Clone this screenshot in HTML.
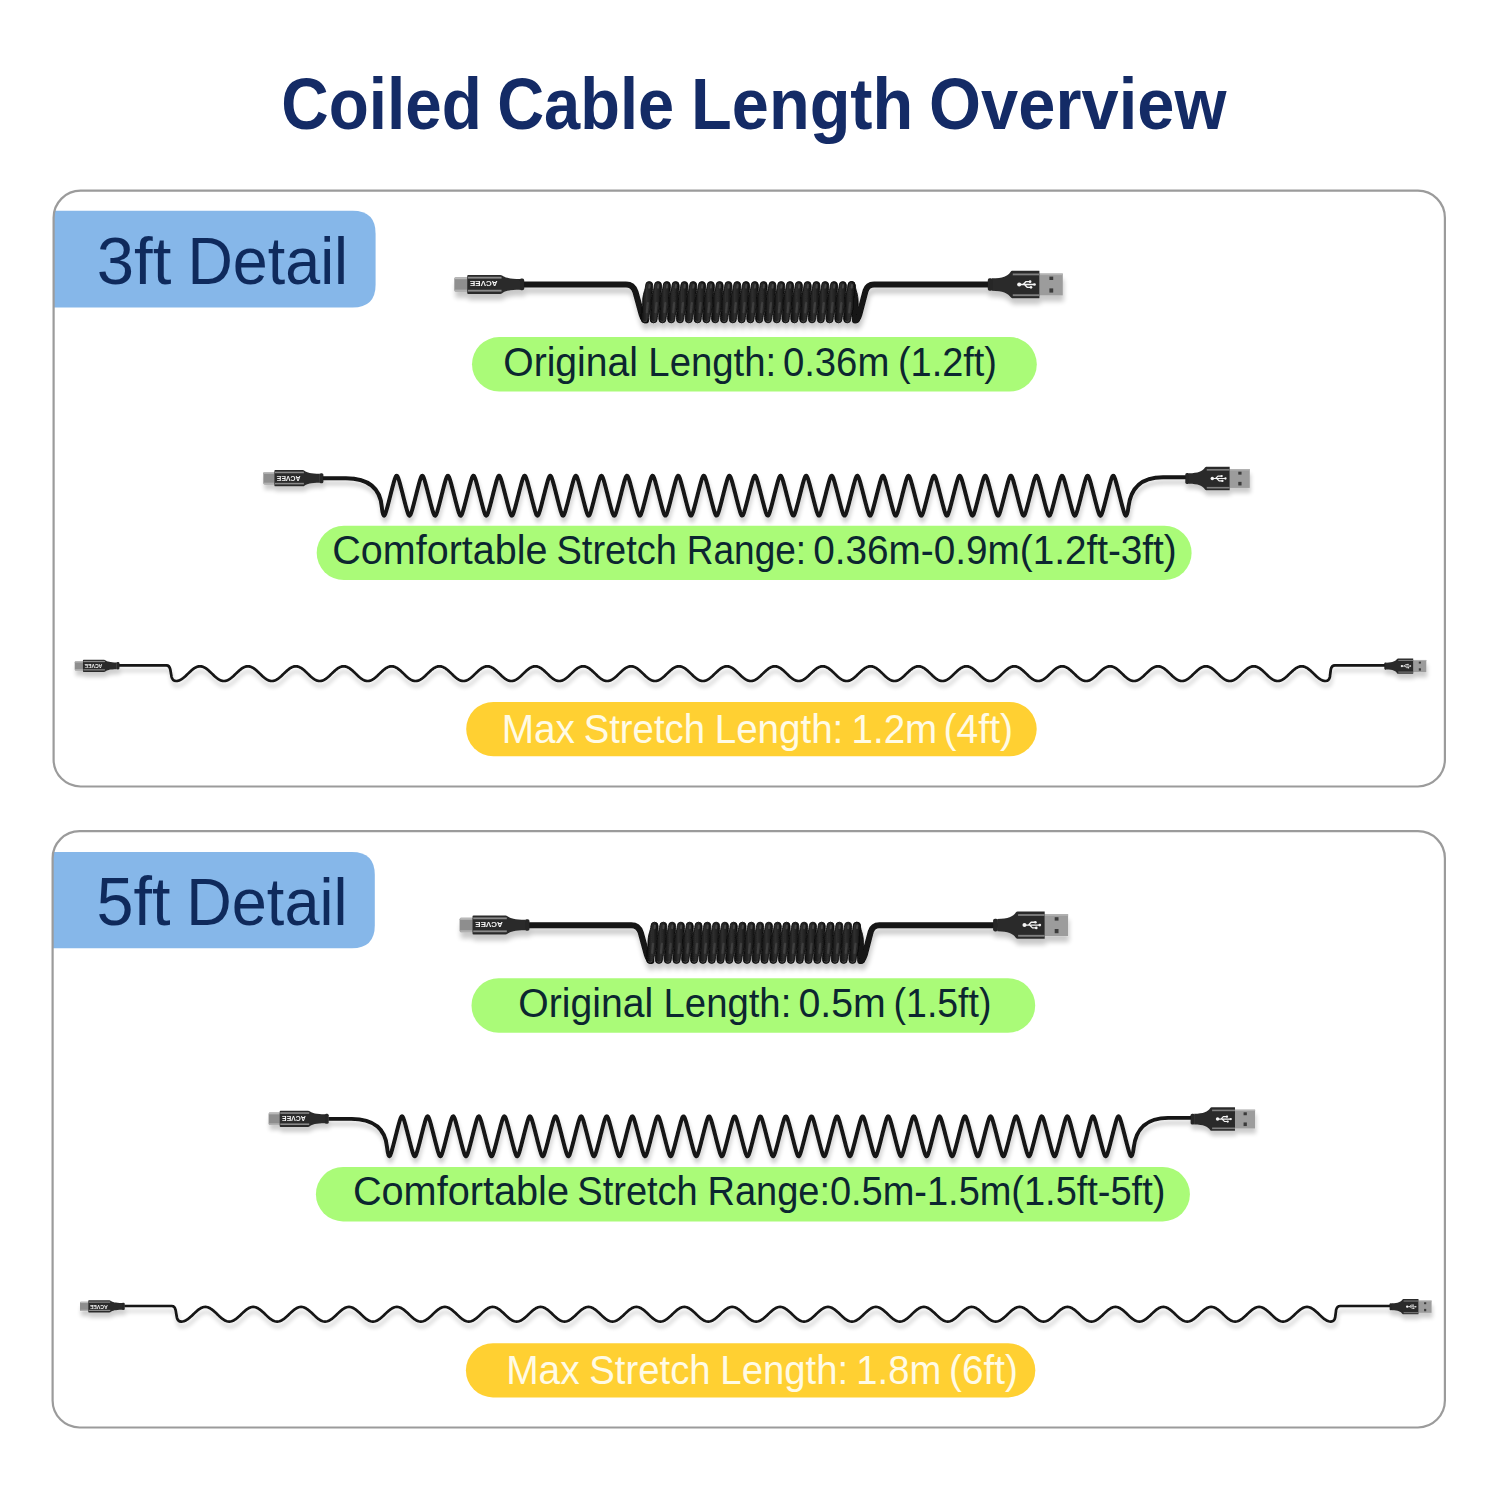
<!DOCTYPE html>
<html><head><meta charset="utf-8"><title>Coiled Cable Length Overview</title>
<style>html,body{margin:0;padding:0;background:#fff;width:1500px;height:1500px;overflow:hidden;font-family:"Liberation Sans",sans-serif} svg{display:block}</style>
</head><body>
<svg width="1500" height="1500" viewBox="0 0 1500 1500">
<defs>
<linearGradient id="pg" x1="0" y1="0" x2="1" y2="0">
<stop offset="0" stop-color="#0c0c0c"/><stop offset="0.45" stop-color="#2e2e2e"/><stop offset="0.6" stop-color="#2a2a2a"/><stop offset="1" stop-color="#101010"/>
</linearGradient>
<filter id="sh" x="-5%" y="-50%" width="110%" height="200%">
<feGaussianBlur in="SourceAlpha" stdDeviation="2.6"/><feOffset dx="1" dy="6" result="o"/>
<feComponentTransfer in="o" result="s"><feFuncA type="linear" slope="0.22"/></feComponentTransfer>
<feMerge><feMergeNode in="s"/><feMergeNode in="SourceGraphic"/></feMerge></filter>
<filter id="sh2" x="-5%" y="-50%" width="110%" height="200%">
<feGaussianBlur in="SourceAlpha" stdDeviation="2.2"/><feOffset dx="1" dy="5" result="o"/>
<feComponentTransfer in="o" result="s"><feFuncA type="linear" slope="0.2"/></feComponentTransfer>
<feMerge><feMergeNode in="s"/><feMergeNode in="SourceGraphic"/></feMerge></filter>
<filter id="sh3" x="-5%" y="-80%" width="110%" height="260%">
<feGaussianBlur in="SourceAlpha" stdDeviation="2"/><feOffset dx="1" dy="5" result="o"/>
<feComponentTransfer in="o" result="s"><feFuncA type="linear" slope="0.2"/></feComponentTransfer>
<feMerge><feMergeNode in="s"/><feMergeNode in="SourceGraphic"/></feMerge></filter>
</defs>
<rect width="1500" height="1500" fill="#ffffff"/>
<text transform="translate(281.26,129.3) scale(0.9118,1.0118)" font-family="Liberation Sans" font-weight="bold" font-size="72" fill="#142b66">Coiled</text>
<text transform="translate(497.19,129.3) scale(0.9026,1.0118)" font-family="Liberation Sans" font-weight="bold" font-size="72" fill="#142b66">Cable</text>
<text transform="translate(691.07,129.3) scale(0.9264,1.0118)" font-family="Liberation Sans" font-weight="bold" font-size="72" fill="#142b66">Length</text>
<text transform="translate(929.11,129.3) scale(0.9287,1.0118)" font-family="Liberation Sans" font-weight="bold" font-size="72" fill="#142b66">Overview</text>
<path d="M54,210.8 L352.6,210.8 Q375.6,210.8 375.6,233.8 L375.6,284.6 Q375.6,307.6 352.6,307.6 L54,307.6 Z" fill="#86b7e9"/>
<rect x="53.6" y="190.7" width="1391.3" height="595.8" rx="27" fill="none" stroke="#9b9b9b" stroke-width="2.2"/>
<text transform="translate(96.75,283.8) scale(1.0171,1.0152)" font-family="Liberation Sans" font-weight="normal" font-size="66" fill="#0f2a5c">3ft</text>
<text transform="translate(187.44,283.8) scale(0.9522,1.0152)" font-family="Liberation Sans" font-weight="normal" font-size="66" fill="#0f2a5c">Detail</text>
<rect x="472" y="337.1" width="564.8" height="54.4" rx="27.2" fill="#aafb78"/>
<text transform="translate(503.25,375.8) scale(0.9774,1.0220)" font-family="Liberation Sans" font-weight="normal" font-size="40" fill="#0c2630">Original</text>
<text transform="translate(648.33,375.8) scale(0.9575,1.0220)" font-family="Liberation Sans" font-weight="normal" font-size="40" fill="#0c2630">Length:</text>
<text transform="translate(782.89,375.8) scale(0.9570,1.0220)" font-family="Liberation Sans" font-weight="normal" font-size="40" fill="#0c2630">0.36m</text>
<text transform="translate(897.95,375.8) scale(0.9485,1.0220)" font-family="Liberation Sans" font-weight="normal" font-size="40" fill="#0c2630">(1.2ft)</text>
<rect x="316.7" y="525.7" width="874.9" height="54.4" rx="27.2" fill="#aafb78"/>
<text transform="translate(332.33,564.3) scale(0.9874,1.0220)" font-family="Liberation Sans" font-weight="normal" font-size="40" fill="#0c2630">Comfortable</text>
<text transform="translate(556.5,564.3) scale(0.9508,1.0220)" font-family="Liberation Sans" font-weight="normal" font-size="40" fill="#0c2630">Stretch</text>
<text transform="translate(686.83,564.3) scale(0.9246,1.0220)" font-family="Liberation Sans" font-weight="normal" font-size="40" fill="#0c2630">Range:</text>
<text transform="translate(813.26,564.3) scale(0.9679,1.0220)" font-family="Liberation Sans" font-weight="normal" font-size="40" fill="#0c2630">0.36m-0.9m(1.2ft-3ft)</text>
<rect x="466.2" y="701.9" width="570.5" height="54.4" rx="27.2" fill="#ffd032"/>
<text transform="translate(501.69,742.7) scale(0.9694,1.0220)" font-family="Liberation Sans" font-weight="normal" font-size="40" fill="#fffbe6">Max</text>
<text transform="translate(583.69,742.7) scale(0.9574,1.0220)" font-family="Liberation Sans" font-weight="normal" font-size="40" fill="#fffbe6">Stretch</text>
<text transform="translate(714.71,742.7) scale(0.9638,1.0220)" font-family="Liberation Sans" font-weight="normal" font-size="40" fill="#fffbe6">Length:</text>
<text transform="translate(851.51,742.7) scale(0.9639,1.0220)" font-family="Liberation Sans" font-weight="normal" font-size="40" fill="#fffbe6">1.2m</text>
<text transform="translate(943.46,742.7) scale(0.9788,1.0220)" font-family="Liberation Sans" font-weight="normal" font-size="40" fill="#fffbe6">(4ft)</text>
<path d="M53,852 L351.8,852 Q374.8,852 374.8,875 L374.8,925.2 Q374.8,948.2 351.8,948.2 L53,948.2 Z" fill="#86b7e9"/>
<rect x="52.6" y="831.2" width="1392.3" height="596.3" rx="27" fill="none" stroke="#9b9b9b" stroke-width="2.2"/>
<text transform="translate(96.47,925.2) scale(1.0086,1.0239)" font-family="Liberation Sans" font-weight="normal" font-size="66" fill="#0f2a5c">5ft</text>
<text transform="translate(186.33,925.2) scale(0.9547,1.0239)" font-family="Liberation Sans" font-weight="normal" font-size="66" fill="#0f2a5c">Detail</text>
<rect x="471.5" y="978.3" width="563.7" height="54.4" rx="27.2" fill="#aafb78"/>
<text transform="translate(518.34,1016.9) scale(0.9782,1.0220)" font-family="Liberation Sans" font-weight="normal" font-size="40" fill="#0c2630">Original</text>
<text transform="translate(663.53,1016.9) scale(0.9575,1.0220)" font-family="Liberation Sans" font-weight="normal" font-size="40" fill="#0c2630">Length:</text>
<text transform="translate(798.44,1016.9) scale(0.9810,1.0220)" font-family="Liberation Sans" font-weight="normal" font-size="40" fill="#0c2630">0.5m</text>
<text transform="translate(893.59,1016.9) scale(0.9364,1.0220)" font-family="Liberation Sans" font-weight="normal" font-size="40" fill="#0c2630">(1.5ft)</text>
<rect x="315.9" y="1167" width="874" height="54.4" rx="27.2" fill="#aafb78"/>
<text transform="translate(352.92,1205.4) scale(0.9921,1.0220)" font-family="Liberation Sans" font-weight="normal" font-size="40" fill="#0c2630">Comfortable</text>
<text transform="translate(577.3,1205.4) scale(0.9508,1.0220)" font-family="Liberation Sans" font-weight="normal" font-size="40" fill="#0c2630">Stretch</text>
<text transform="translate(707.55,1205.4) scale(0.9493,1.0220)" font-family="Liberation Sans" font-weight="normal" font-size="40" fill="#0c2630">Range:0.5m-1.5m(1.5ft-5ft)</text>
<rect x="465.9" y="1343.3" width="569.4" height="54.1" rx="27.05" fill="#ffd032"/>
<text transform="translate(506.18,1383.8) scale(0.9736,1.0220)" font-family="Liberation Sans" font-weight="normal" font-size="40" fill="#fffbe6">Max</text>
<text transform="translate(589.29,1383.8) scale(0.9574,1.0220)" font-family="Liberation Sans" font-weight="normal" font-size="40" fill="#fffbe6">Stretch</text>
<text transform="translate(720.33,1383.8) scale(0.9575,1.0220)" font-family="Liberation Sans" font-weight="normal" font-size="40" fill="#fffbe6">Length:</text>
<text transform="translate(856.34,1383.8) scale(0.9542,1.0220)" font-family="Liberation Sans" font-weight="normal" font-size="40" fill="#fffbe6">1.8m</text>
<text transform="translate(949.1,1383.8) scale(0.9682,1.0220)" font-family="Liberation Sans" font-weight="normal" font-size="40" fill="#fffbe6">(6ft)</text>
<g filter="url(#sh)"><path d="M524,284.6 L626,284.6 Q633,284.6 635.5,292 L641.5,314 Q643.5,320.5 646,320.5" fill="none" stroke="#121212" stroke-width="6" stroke-linecap="round"/>
<path d="M848.1,285.1 A3.5,3.5 0 0 1 855.1,285.1 C855.5,290.6 858.1,293.2 858.1,302.2 C858.1,311.2 859.9,313.8 859.5,319.3 A3.5,3.5 0 0 1 852.5,319.3 C852.1,313.8 849.5,311.2 849.5,302.2 C849.5,293.2 847.7,290.6 848.1,285.1 Z" fill="#161616" stroke="#080808" stroke-width="0.9"/>
<path d="M645.7,285.1 A3.5,3.5 0 0 1 652.7,285.1 C653.1,290.6 651.3,293.2 651.3,302.2 C651.3,311.2 648.7,313.8 648.3,319.3 A3.5,3.5 0 0 1 641.3,319.3 C640.9,313.8 642.7,311.2 642.7,302.2 C642.7,293.2 645.3,290.6 645.7,285.1 Z" fill="url(#pg)" stroke="#080808" stroke-width="0.9"/>
<path d="M654.5,285.1 A3.5,3.5 0 0 1 661.5,285.1 C661.9,290.6 660.1,293.2 660.1,302.2 C660.1,311.2 657.5,313.8 657.1,319.3 A3.5,3.5 0 0 1 650.1,319.3 C649.7,313.8 651.5,311.2 651.5,302.2 C651.5,293.2 654.1,290.6 654.5,285.1 Z" fill="url(#pg)" stroke="#080808" stroke-width="0.9"/>
<path d="M663.3,285.1 A3.5,3.5 0 0 1 670.3,285.1 C670.7,290.6 668.9,293.2 668.9,302.2 C668.9,311.2 666.3,313.8 665.9,319.3 A3.5,3.5 0 0 1 658.9,319.3 C658.5,313.8 660.3,311.2 660.3,302.2 C660.3,293.2 662.9,290.6 663.3,285.1 Z" fill="url(#pg)" stroke="#080808" stroke-width="0.9"/>
<path d="M672.1,285.1 A3.5,3.5 0 0 1 679.1,285.1 C679.5,290.6 677.7,293.2 677.7,302.2 C677.7,311.2 675.1,313.8 674.7,319.3 A3.5,3.5 0 0 1 667.7,319.3 C667.3,313.8 669.1,311.2 669.1,302.2 C669.1,293.2 671.7,290.6 672.1,285.1 Z" fill="url(#pg)" stroke="#080808" stroke-width="0.9"/>
<path d="M680.9,285.1 A3.5,3.5 0 0 1 687.9,285.1 C688.3,290.6 686.5,293.2 686.5,302.2 C686.5,311.2 683.9,313.8 683.5,319.3 A3.5,3.5 0 0 1 676.5,319.3 C676.1,313.8 677.9,311.2 677.9,302.2 C677.9,293.2 680.5,290.6 680.9,285.1 Z" fill="url(#pg)" stroke="#080808" stroke-width="0.9"/>
<path d="M689.7,285.1 A3.5,3.5 0 0 1 696.7,285.1 C697.1,290.6 695.3,293.2 695.3,302.2 C695.3,311.2 692.7,313.8 692.3,319.3 A3.5,3.5 0 0 1 685.3,319.3 C684.9,313.8 686.7,311.2 686.7,302.2 C686.7,293.2 689.3,290.6 689.7,285.1 Z" fill="url(#pg)" stroke="#080808" stroke-width="0.9"/>
<path d="M698.5,285.1 A3.5,3.5 0 0 1 705.5,285.1 C705.9,290.6 704.1,293.2 704.1,302.2 C704.1,311.2 701.5,313.8 701.1,319.3 A3.5,3.5 0 0 1 694.1,319.3 C693.7,313.8 695.5,311.2 695.5,302.2 C695.5,293.2 698.1,290.6 698.5,285.1 Z" fill="url(#pg)" stroke="#080808" stroke-width="0.9"/>
<path d="M707.3,285.1 A3.5,3.5 0 0 1 714.3,285.1 C714.7,290.6 712.9,293.2 712.9,302.2 C712.9,311.2 710.3,313.8 709.9,319.3 A3.5,3.5 0 0 1 702.9,319.3 C702.5,313.8 704.3,311.2 704.3,302.2 C704.3,293.2 706.9,290.6 707.3,285.1 Z" fill="url(#pg)" stroke="#080808" stroke-width="0.9"/>
<path d="M716.1,285.1 A3.5,3.5 0 0 1 723.1,285.1 C723.5,290.6 721.7,293.2 721.7,302.2 C721.7,311.2 719.1,313.8 718.7,319.3 A3.5,3.5 0 0 1 711.7,319.3 C711.3,313.8 713.1,311.2 713.1,302.2 C713.1,293.2 715.7,290.6 716.1,285.1 Z" fill="url(#pg)" stroke="#080808" stroke-width="0.9"/>
<path d="M724.9,285.1 A3.5,3.5 0 0 1 731.9,285.1 C732.3,290.6 730.5,293.2 730.5,302.2 C730.5,311.2 727.9,313.8 727.5,319.3 A3.5,3.5 0 0 1 720.5,319.3 C720.1,313.8 721.9,311.2 721.9,302.2 C721.9,293.2 724.5,290.6 724.9,285.1 Z" fill="url(#pg)" stroke="#080808" stroke-width="0.9"/>
<path d="M733.7,285.1 A3.5,3.5 0 0 1 740.7,285.1 C741.1,290.6 739.3,293.2 739.3,302.2 C739.3,311.2 736.7,313.8 736.3,319.3 A3.5,3.5 0 0 1 729.3,319.3 C728.9,313.8 730.7,311.2 730.7,302.2 C730.7,293.2 733.3,290.6 733.7,285.1 Z" fill="url(#pg)" stroke="#080808" stroke-width="0.9"/>
<path d="M742.5,285.1 A3.5,3.5 0 0 1 749.5,285.1 C749.9,290.6 748.1,293.2 748.1,302.2 C748.1,311.2 745.5,313.8 745.1,319.3 A3.5,3.5 0 0 1 738.1,319.3 C737.7,313.8 739.5,311.2 739.5,302.2 C739.5,293.2 742.1,290.6 742.5,285.1 Z" fill="url(#pg)" stroke="#080808" stroke-width="0.9"/>
<path d="M751.3,285.1 A3.5,3.5 0 0 1 758.3,285.1 C758.7,290.6 756.9,293.2 756.9,302.2 C756.9,311.2 754.3,313.8 753.9,319.3 A3.5,3.5 0 0 1 746.9,319.3 C746.5,313.8 748.3,311.2 748.3,302.2 C748.3,293.2 750.9,290.6 751.3,285.1 Z" fill="url(#pg)" stroke="#080808" stroke-width="0.9"/>
<path d="M760.1,285.1 A3.5,3.5 0 0 1 767.1,285.1 C767.5,290.6 765.7,293.2 765.7,302.2 C765.7,311.2 763.1,313.8 762.7,319.3 A3.5,3.5 0 0 1 755.7,319.3 C755.3,313.8 757.1,311.2 757.1,302.2 C757.1,293.2 759.7,290.6 760.1,285.1 Z" fill="url(#pg)" stroke="#080808" stroke-width="0.9"/>
<path d="M768.9,285.1 A3.5,3.5 0 0 1 775.9,285.1 C776.3,290.6 774.5,293.2 774.5,302.2 C774.5,311.2 771.9,313.8 771.5,319.3 A3.5,3.5 0 0 1 764.5,319.3 C764.1,313.8 765.9,311.2 765.9,302.2 C765.9,293.2 768.5,290.6 768.9,285.1 Z" fill="url(#pg)" stroke="#080808" stroke-width="0.9"/>
<path d="M777.7,285.1 A3.5,3.5 0 0 1 784.7,285.1 C785.1,290.6 783.3,293.2 783.3,302.2 C783.3,311.2 780.7,313.8 780.3,319.3 A3.5,3.5 0 0 1 773.3,319.3 C772.9,313.8 774.7,311.2 774.7,302.2 C774.7,293.2 777.3,290.6 777.7,285.1 Z" fill="url(#pg)" stroke="#080808" stroke-width="0.9"/>
<path d="M786.5,285.1 A3.5,3.5 0 0 1 793.5,285.1 C793.9,290.6 792.1,293.2 792.1,302.2 C792.1,311.2 789.5,313.8 789.1,319.3 A3.5,3.5 0 0 1 782.1,319.3 C781.7,313.8 783.5,311.2 783.5,302.2 C783.5,293.2 786.1,290.6 786.5,285.1 Z" fill="url(#pg)" stroke="#080808" stroke-width="0.9"/>
<path d="M795.3,285.1 A3.5,3.5 0 0 1 802.3,285.1 C802.7,290.6 800.9,293.2 800.9,302.2 C800.9,311.2 798.3,313.8 797.9,319.3 A3.5,3.5 0 0 1 790.9,319.3 C790.5,313.8 792.3,311.2 792.3,302.2 C792.3,293.2 794.9,290.6 795.3,285.1 Z" fill="url(#pg)" stroke="#080808" stroke-width="0.9"/>
<path d="M804.1,285.1 A3.5,3.5 0 0 1 811.1,285.1 C811.5,290.6 809.7,293.2 809.7,302.2 C809.7,311.2 807.1,313.8 806.7,319.3 A3.5,3.5 0 0 1 799.7,319.3 C799.3,313.8 801.1,311.2 801.1,302.2 C801.1,293.2 803.7,290.6 804.1,285.1 Z" fill="url(#pg)" stroke="#080808" stroke-width="0.9"/>
<path d="M812.9,285.1 A3.5,3.5 0 0 1 819.9,285.1 C820.3,290.6 818.5,293.2 818.5,302.2 C818.5,311.2 815.9,313.8 815.5,319.3 A3.5,3.5 0 0 1 808.5,319.3 C808.1,313.8 809.9,311.2 809.9,302.2 C809.9,293.2 812.5,290.6 812.9,285.1 Z" fill="url(#pg)" stroke="#080808" stroke-width="0.9"/>
<path d="M821.7,285.1 A3.5,3.5 0 0 1 828.7,285.1 C829.1,290.6 827.3,293.2 827.3,302.2 C827.3,311.2 824.7,313.8 824.3,319.3 A3.5,3.5 0 0 1 817.3,319.3 C816.9,313.8 818.7,311.2 818.7,302.2 C818.7,293.2 821.3,290.6 821.7,285.1 Z" fill="url(#pg)" stroke="#080808" stroke-width="0.9"/>
<path d="M830.5,285.1 A3.5,3.5 0 0 1 837.5,285.1 C837.9,290.6 836.1,293.2 836.1,302.2 C836.1,311.2 833.5,313.8 833.1,319.3 A3.5,3.5 0 0 1 826.1,319.3 C825.7,313.8 827.5,311.2 827.5,302.2 C827.5,293.2 830.1,290.6 830.5,285.1 Z" fill="url(#pg)" stroke="#080808" stroke-width="0.9"/>
<path d="M839.3,285.1 A3.5,3.5 0 0 1 846.3,285.1 C846.7,290.6 844.9,293.2 844.9,302.2 C844.9,311.2 842.3,313.8 841.9,319.3 A3.5,3.5 0 0 1 834.9,319.3 C834.5,313.8 836.3,311.2 836.3,302.2 C836.3,293.2 838.9,290.6 839.3,285.1 Z" fill="url(#pg)" stroke="#080808" stroke-width="0.9"/>
<path d="M848.1,285.1 A3.5,3.5 0 0 1 855.1,285.1 C855.5,290.6 853.7,293.2 853.7,302.2 C853.7,311.2 851.1,313.8 850.7,319.3 A3.5,3.5 0 0 1 843.7,319.3 C843.3,313.8 845.1,311.2 845.1,302.2 C845.1,293.2 847.7,290.6 848.1,285.1 Z" fill="url(#pg)" stroke="#080808" stroke-width="0.9"/>
<path d="M649.6,285 L649.3,287.6" stroke="#5c5c5c" stroke-width="2" stroke-linecap="round" opacity="0.6"/>
<path d="M647.8,303.2 L646.8,312.2" stroke="#525252" stroke-width="2.2" stroke-linecap="round" opacity="0.5"/>
<path d="M642.6,320.6 A3,3 0 0 0 647,320.6" fill="none" stroke="#505050" stroke-width="1" opacity="0.6"/>
<path d="M658.4,285 L658.1,287.6" stroke="#5c5c5c" stroke-width="2" stroke-linecap="round" opacity="0.6"/>
<path d="M656.6,303.2 L655.6,312.2" stroke="#525252" stroke-width="2.2" stroke-linecap="round" opacity="0.5"/>
<path d="M651.4,320.6 A3,3 0 0 0 655.8,320.6" fill="none" stroke="#505050" stroke-width="1" opacity="0.6"/>
<path d="M667.2,285 L666.9,287.6" stroke="#5c5c5c" stroke-width="2" stroke-linecap="round" opacity="0.6"/>
<path d="M665.4,303.2 L664.4,312.2" stroke="#525252" stroke-width="2.2" stroke-linecap="round" opacity="0.5"/>
<path d="M660.2,320.6 A3,3 0 0 0 664.6,320.6" fill="none" stroke="#505050" stroke-width="1" opacity="0.6"/>
<path d="M676,285 L675.7,287.6" stroke="#5c5c5c" stroke-width="2" stroke-linecap="round" opacity="0.6"/>
<path d="M674.2,303.2 L673.2,312.2" stroke="#525252" stroke-width="2.2" stroke-linecap="round" opacity="0.5"/>
<path d="M669,320.6 A3,3 0 0 0 673.4,320.6" fill="none" stroke="#505050" stroke-width="1" opacity="0.6"/>
<path d="M684.8,285 L684.5,287.6" stroke="#5c5c5c" stroke-width="2" stroke-linecap="round" opacity="0.6"/>
<path d="M683,303.2 L682,312.2" stroke="#525252" stroke-width="2.2" stroke-linecap="round" opacity="0.5"/>
<path d="M677.8,320.6 A3,3 0 0 0 682.2,320.6" fill="none" stroke="#505050" stroke-width="1" opacity="0.6"/>
<path d="M693.6,285 L693.3,287.6" stroke="#5c5c5c" stroke-width="2" stroke-linecap="round" opacity="0.6"/>
<path d="M691.8,303.2 L690.8,312.2" stroke="#525252" stroke-width="2.2" stroke-linecap="round" opacity="0.5"/>
<path d="M686.6,320.6 A3,3 0 0 0 691,320.6" fill="none" stroke="#505050" stroke-width="1" opacity="0.6"/>
<path d="M702.4,285 L702.1,287.6" stroke="#5c5c5c" stroke-width="2" stroke-linecap="round" opacity="0.6"/>
<path d="M700.6,303.2 L699.6,312.2" stroke="#525252" stroke-width="2.2" stroke-linecap="round" opacity="0.5"/>
<path d="M695.4,320.6 A3,3 0 0 0 699.8,320.6" fill="none" stroke="#505050" stroke-width="1" opacity="0.6"/>
<path d="M711.2,285 L710.9,287.6" stroke="#5c5c5c" stroke-width="2" stroke-linecap="round" opacity="0.6"/>
<path d="M709.4,303.2 L708.4,312.2" stroke="#525252" stroke-width="2.2" stroke-linecap="round" opacity="0.5"/>
<path d="M704.2,320.6 A3,3 0 0 0 708.6,320.6" fill="none" stroke="#505050" stroke-width="1" opacity="0.6"/>
<path d="M720,285 L719.7,287.6" stroke="#5c5c5c" stroke-width="2" stroke-linecap="round" opacity="0.6"/>
<path d="M718.2,303.2 L717.2,312.2" stroke="#525252" stroke-width="2.2" stroke-linecap="round" opacity="0.5"/>
<path d="M713,320.6 A3,3 0 0 0 717.4,320.6" fill="none" stroke="#505050" stroke-width="1" opacity="0.6"/>
<path d="M728.8,285 L728.5,287.6" stroke="#5c5c5c" stroke-width="2" stroke-linecap="round" opacity="0.6"/>
<path d="M727,303.2 L726,312.2" stroke="#525252" stroke-width="2.2" stroke-linecap="round" opacity="0.5"/>
<path d="M721.8,320.6 A3,3 0 0 0 726.2,320.6" fill="none" stroke="#505050" stroke-width="1" opacity="0.6"/>
<path d="M737.6,285 L737.3,287.6" stroke="#5c5c5c" stroke-width="2" stroke-linecap="round" opacity="0.6"/>
<path d="M735.8,303.2 L734.8,312.2" stroke="#525252" stroke-width="2.2" stroke-linecap="round" opacity="0.5"/>
<path d="M730.6,320.6 A3,3 0 0 0 735,320.6" fill="none" stroke="#505050" stroke-width="1" opacity="0.6"/>
<path d="M746.4,285 L746.1,287.6" stroke="#5c5c5c" stroke-width="2" stroke-linecap="round" opacity="0.6"/>
<path d="M744.6,303.2 L743.6,312.2" stroke="#525252" stroke-width="2.2" stroke-linecap="round" opacity="0.5"/>
<path d="M739.4,320.6 A3,3 0 0 0 743.8,320.6" fill="none" stroke="#505050" stroke-width="1" opacity="0.6"/>
<path d="M755.2,285 L754.9,287.6" stroke="#5c5c5c" stroke-width="2" stroke-linecap="round" opacity="0.6"/>
<path d="M753.4,303.2 L752.4,312.2" stroke="#525252" stroke-width="2.2" stroke-linecap="round" opacity="0.5"/>
<path d="M748.2,320.6 A3,3 0 0 0 752.6,320.6" fill="none" stroke="#505050" stroke-width="1" opacity="0.6"/>
<path d="M764,285 L763.7,287.6" stroke="#5c5c5c" stroke-width="2" stroke-linecap="round" opacity="0.6"/>
<path d="M762.2,303.2 L761.2,312.2" stroke="#525252" stroke-width="2.2" stroke-linecap="round" opacity="0.5"/>
<path d="M757,320.6 A3,3 0 0 0 761.4,320.6" fill="none" stroke="#505050" stroke-width="1" opacity="0.6"/>
<path d="M772.8,285 L772.5,287.6" stroke="#5c5c5c" stroke-width="2" stroke-linecap="round" opacity="0.6"/>
<path d="M771,303.2 L770,312.2" stroke="#525252" stroke-width="2.2" stroke-linecap="round" opacity="0.5"/>
<path d="M765.8,320.6 A3,3 0 0 0 770.2,320.6" fill="none" stroke="#505050" stroke-width="1" opacity="0.6"/>
<path d="M781.6,285 L781.3,287.6" stroke="#5c5c5c" stroke-width="2" stroke-linecap="round" opacity="0.6"/>
<path d="M779.8,303.2 L778.8,312.2" stroke="#525252" stroke-width="2.2" stroke-linecap="round" opacity="0.5"/>
<path d="M774.6,320.6 A3,3 0 0 0 779,320.6" fill="none" stroke="#505050" stroke-width="1" opacity="0.6"/>
<path d="M790.4,285 L790.1,287.6" stroke="#5c5c5c" stroke-width="2" stroke-linecap="round" opacity="0.6"/>
<path d="M788.6,303.2 L787.6,312.2" stroke="#525252" stroke-width="2.2" stroke-linecap="round" opacity="0.5"/>
<path d="M783.4,320.6 A3,3 0 0 0 787.8,320.6" fill="none" stroke="#505050" stroke-width="1" opacity="0.6"/>
<path d="M799.2,285 L798.9,287.6" stroke="#5c5c5c" stroke-width="2" stroke-linecap="round" opacity="0.6"/>
<path d="M797.4,303.2 L796.4,312.2" stroke="#525252" stroke-width="2.2" stroke-linecap="round" opacity="0.5"/>
<path d="M792.2,320.6 A3,3 0 0 0 796.6,320.6" fill="none" stroke="#505050" stroke-width="1" opacity="0.6"/>
<path d="M808,285 L807.7,287.6" stroke="#5c5c5c" stroke-width="2" stroke-linecap="round" opacity="0.6"/>
<path d="M806.2,303.2 L805.2,312.2" stroke="#525252" stroke-width="2.2" stroke-linecap="round" opacity="0.5"/>
<path d="M801,320.6 A3,3 0 0 0 805.4,320.6" fill="none" stroke="#505050" stroke-width="1" opacity="0.6"/>
<path d="M816.8,285 L816.5,287.6" stroke="#5c5c5c" stroke-width="2" stroke-linecap="round" opacity="0.6"/>
<path d="M815,303.2 L814,312.2" stroke="#525252" stroke-width="2.2" stroke-linecap="round" opacity="0.5"/>
<path d="M809.8,320.6 A3,3 0 0 0 814.2,320.6" fill="none" stroke="#505050" stroke-width="1" opacity="0.6"/>
<path d="M825.6,285 L825.3,287.6" stroke="#5c5c5c" stroke-width="2" stroke-linecap="round" opacity="0.6"/>
<path d="M823.8,303.2 L822.8,312.2" stroke="#525252" stroke-width="2.2" stroke-linecap="round" opacity="0.5"/>
<path d="M818.6,320.6 A3,3 0 0 0 823,320.6" fill="none" stroke="#505050" stroke-width="1" opacity="0.6"/>
<path d="M834.4,285 L834.1,287.6" stroke="#5c5c5c" stroke-width="2" stroke-linecap="round" opacity="0.6"/>
<path d="M832.6,303.2 L831.6,312.2" stroke="#525252" stroke-width="2.2" stroke-linecap="round" opacity="0.5"/>
<path d="M827.4,320.6 A3,3 0 0 0 831.8,320.6" fill="none" stroke="#505050" stroke-width="1" opacity="0.6"/>
<path d="M843.2,285 L842.9,287.6" stroke="#5c5c5c" stroke-width="2" stroke-linecap="round" opacity="0.6"/>
<path d="M841.4,303.2 L840.4,312.2" stroke="#525252" stroke-width="2.2" stroke-linecap="round" opacity="0.5"/>
<path d="M836.2,320.6 A3,3 0 0 0 840.6,320.6" fill="none" stroke="#505050" stroke-width="1" opacity="0.6"/>
<path d="M852,285 L851.7,287.6" stroke="#5c5c5c" stroke-width="2" stroke-linecap="round" opacity="0.6"/>
<path d="M850.2,303.2 L849.2,312.2" stroke="#525252" stroke-width="2.2" stroke-linecap="round" opacity="0.5"/>
<path d="M845,320.6 A3,3 0 0 0 849.4,320.6" fill="none" stroke="#505050" stroke-width="1" opacity="0.6"/>
<path d="M855,320.5 Q857.5,320.5 859.5,314 L865.5,291 Q867.5,284.6 874,284.6 L990,284.6" fill="none" stroke="#121212" stroke-width="6" stroke-linecap="round"/>
<g transform="translate(454.3,284.4) scale(1.0)">
<rect x="0" y="-7.2" width="13.5" height="14.4" rx="1.5" fill="#8e8e8e"/>
<rect x="0.5" y="-7.2" width="12.5" height="2" fill="#b9b9b9"/>
<rect x="0.5" y="5.2" width="12.5" height="2" fill="#b0b0b0"/>
<path d="M12.9,-8.5 Q12.9,-9.5 14,-9.5 L46,-9.5 Q47,-9.5 47.8,-8.8 C51,-6.5 55,-5.5 65.7,-5.3 L65.7,5.3 C55,5.5 51,6.5 47.8,8.8 Q47,9.5 46,9.5 L14,9.5 Q12.9,9.5 12.9,8.5 Z" fill="#2c2c2c"/>
<rect x="65.2" y="-5.8" width="4.7" height="11.6" rx="1.8" fill="#262626"/>
<rect x="13.6" y="-7.6" width="33.6" height="1.8" fill="#8a8a8a"/>
<rect x="13.6" y="5.4" width="33.6" height="1.8" fill="#8a8a8a"/>
<text transform="translate(29.4,0) rotate(180)" x="0" y="2.9" text-anchor="middle" font-family="Liberation Sans" font-weight="bold" font-size="7.8" fill="#f2f2f2" textLength="27.6" lengthAdjust="spacingAndGlyphs">ACVEE</text>
</g>
<g transform="translate(1062.8,284.5) scale(1.0)">
<rect x="-23.6" y="-10.95" width="23.6" height="21.9" fill="#9c9c9c"/>
<rect x="-23.6" y="-10.95" width="23.6" height="1.6" fill="#b4b4b4"/>
<rect x="-13.4" y="-7.9" width="3.8" height="3.4" fill="#3a3a3a"/>
<rect x="-13.4" y="3.9" width="3.8" height="4.2" fill="#3a3a3a"/>
<path d="M-23.4,-13.65 L-50.5,-13.65 Q-51.6,-13.65 -52.3,-12.6 C-55,-8.6 -60,-6.3 -70.8,-6.2 L-70.8,6.2 C-60,6.3 -55,8.6 -52.3,12.6 Q-51.6,13.65 -50.5,13.65 L-23.4,13.65 Z" fill="#2c2c2c"/>
<rect x="-75" y="-6.3" width="4.8" height="12.6" rx="1.8" fill="#262626"/>
<rect x="-50" y="-11" width="26.6" height="1.8" fill="#808080"/>
<rect x="-50" y="9.8" width="26.6" height="1.8" fill="#808080"/>
<g fill="#f4f4f4" stroke="#f4f4f4" transform="translate(-37.8,0) scale(0.88) translate(37.8,0)">
<circle cx="-44.4" cy="0" r="2.3" stroke="none"/>
<path d="M-44,0 L-27.5,0 M-40,0 L-36.8,-3.2 L-32.5,-3.2 M-38.5,0 L-35.3,3.2 L-31.5,3.2" stroke-width="1.5" fill="none"/>
<circle cx="-32" cy="-3.2" r="1.5" stroke="none"/>
<circle cx="-31" cy="3.2" r="1.5" stroke="none"/>
<circle cx="-27" cy="0" r="1.5" stroke="none"/>
</g>
</g></g>
<g filter="url(#sh2)"><path d="M323,478.3 L346,478.3 C371,478.5 380.5,491 381.8,507 Q382.6,515.7 383.9,515.7 L 383.9,515.7 384.33,515.5 384.76,514.93 385.19,514.05 385.61,512.94 386.04,511.66 386.47,510.26 386.89,508.78 387.32,507.24 387.75,505.65 388.17,504.03 388.6,502.38 389.03,500.72 389.45,499.05 389.88,497.37 390.31,495.69 390.73,494 391.16,492.32 391.59,490.65 392.01,488.99 392.44,487.34 392.87,485.72 393.29,484.14 393.72,482.59 394.15,481.11 394.57,479.72 395,478.44 395.43,477.33 395.85,476.46 396.28,475.89 396.71,475.7 397.13,475.91 397.56,476.49 397.99,477.37 398.41,478.48 398.84,479.76 399.27,481.16 399.69,482.65 400.12,484.19 400.55,485.78 400.97,487.4 401.4,489.05 401.83,490.71 402.26,492.38 402.68,494.06 403.11,495.74 403.54,497.43 403.96,499.11 404.39,500.78 404.82,502.44 405.24,504.08 405.67,505.7 406.1,507.29 406.52,508.83 406.95,510.31 407.38,511.71 407.8,512.98 408.23,514.08 408.66,514.95 409.08,515.51 409.51,515.7 409.94,515.49 410.36,514.9 410.79,514.01 411.22,512.9 411.64,511.61 412.07,510.21 412.5,508.73 412.92,507.18 413.35,505.59 413.78,503.97 414.2,502.33 414.63,500.66 415.06,498.99 415.48,497.31 415.91,495.63 416.34,493.94 416.76,492.26 417.19,490.59 417.62,488.93 418.04,487.29 418.47,485.67 418.9,484.08 419.32,482.54 419.75,481.06 420.18,479.67 420.61,478.4 421.03,477.3 421.46,476.43 421.89,475.88 422.31,475.7 422.74,475.92 423.17,476.51 423.59,477.4 424.02,478.53 424.45,479.81 424.87,481.21 425.3,482.7 425.73,484.25 426.15,485.84 426.58,487.46 427.01,489.1 427.43,490.76 427.86,492.44 428.29,494.12 428.71,495.8 429.14,497.49 429.57,499.17 429.99,500.84 430.42,502.5 430.85,504.14 431.27,505.76 431.7,507.34 432.13,508.88 432.55,510.36 432.98,511.75 433.41,513.02 433.83,514.12 434.26,514.98 434.69,515.53 435.11,515.7 435.54,515.47 435.97,514.88 436.39,513.98 436.82,512.85 437.25,511.57 437.67,510.16 438.1,508.67 438.53,507.13 438.96,505.54 439.38,503.91 439.81,502.27 440.24,500.61 440.66,498.93 441.09,497.25 441.52,495.57 441.94,493.89 442.37,492.21 442.8,490.53 443.22,488.87 443.65,487.23 444.08,485.61 444.5,484.03 444.93,482.49 445.36,481.01 445.78,479.63 446.21,478.36 446.64,477.27 447.06,476.41 447.49,475.87 447.92,475.7 448.34,475.94 448.77,476.54 449.2,477.44 449.62,478.57 450.05,479.86 450.48,481.26 450.9,482.75 451.33,484.3 451.76,485.89 452.18,487.51 452.61,489.16 453.04,490.82 453.46,492.5 453.89,494.18 454.32,495.86 454.74,497.54 455.17,499.22 455.6,500.89 456.02,502.55 456.45,504.2 456.88,505.81 457.31,507.4 457.73,508.94 458.16,510.41 458.59,511.8 459.01,513.06 459.44,514.15 459.87,515 460.29,515.54 460.72,515.7 461.15,515.46 461.57,514.85 462,513.94 462.43,512.81 462.85,511.52 463.28,510.11 463.71,508.62 464.13,507.07 464.56,505.48 464.99,503.86 465.41,502.21 465.84,500.55 466.27,498.88 466.69,497.2 467.12,495.51 467.55,493.83 467.97,492.15 468.4,490.48 468.83,488.82 469.25,487.18 469.68,485.56 470.11,483.98 470.53,482.44 470.96,480.96 471.39,479.58 471.81,478.32 472.24,477.23 472.67,476.39 473.09,475.86 473.52,475.7 473.95,475.95 474.37,476.56 474.8,477.47 475.23,478.61 475.66,479.9 476.08,481.31 476.51,482.8 476.94,484.35 477.36,485.95 477.79,487.57 478.22,489.22 478.64,490.88 479.07,492.55 479.5,494.23 479.92,495.92 480.35,497.6 480.78,499.28 481.2,500.95 481.63,502.61 482.06,504.25 482.48,505.87 482.91,507.45 483.34,508.99 483.76,510.46 484.19,511.84 484.62,513.1 485.04,514.18 485.47,515.03 485.9,515.55 486.32,515.7 486.75,515.44 487.18,514.82 487.6,513.91 488.03,512.77 488.46,511.47 488.88,510.06 489.31,508.57 489.74,507.02 490.16,505.43 490.59,503.8 491.02,502.16 491.44,500.49 491.87,498.82 492.3,497.14 492.73,495.45 493.15,493.77 493.58,492.09 494.01,490.42 494.43,488.76 494.86,487.12 495.29,485.5 495.71,483.92 496.14,482.39 496.57,480.92 496.99,479.53 497.42,478.28 497.85,477.2 498.27,476.36 498.7,475.84 499.13,475.7 499.55,475.97 499.98,476.59 500.41,477.51 500.83,478.65 501.26,479.95 501.69,481.36 502.11,482.86 502.54,484.41 502.97,486 503.39,487.63 503.82,489.27 504.25,490.94 504.67,492.61 505.1,494.29 505.53,495.98 505.95,497.66 506.38,499.34 506.81,501.01 507.23,502.67 507.66,504.31 508.09,505.92 508.51,507.51 508.94,509.04 509.37,510.51 509.79,511.89 510.22,513.14 510.65,514.22 511.08,515.05 511.5,515.56 511.93,515.69 512.36,515.43 512.78,514.8 513.21,513.87 513.64,512.73 514.06,511.43 514.49,510.01 514.92,508.52 515.34,506.96 515.77,505.37 516.2,503.75 516.62,502.1 517.05,500.43 517.48,498.76 517.9,497.08 518.33,495.4 518.76,493.71 519.18,492.03 519.61,490.36 520.04,488.7 520.46,487.06 520.89,485.45 521.32,483.87 521.74,482.33 522.17,480.87 522.6,479.49 523.02,478.24 523.45,477.17 523.88,476.34 524.3,475.83 524.73,475.71 525.16,475.98 525.58,476.62 526.01,477.55 526.44,478.69 526.86,480 527.29,481.41 527.72,482.91 528.14,484.46 528.57,486.06 529,487.68 529.43,489.33 529.85,490.99 530.28,492.67 530.71,494.35 531.13,496.03 531.56,497.72 531.99,499.4 532.41,501.07 532.84,502.73 533.27,504.36 533.69,505.98 534.12,507.56 534.55,509.09 534.97,510.56 535.4,511.93 535.83,513.18 536.25,514.25 536.68,515.07 537.11,515.57 537.53,515.69 537.96,515.41 538.39,514.77 538.81,513.84 539.24,512.68 539.67,511.38 540.09,509.96 540.52,508.46 540.95,506.91 541.37,505.31 541.8,503.69 542.23,502.04 542.65,500.38 543.08,498.7 543.51,497.02 543.93,495.34 544.36,493.65 544.79,491.97 545.21,490.3 545.64,488.65 546.07,487.01 546.49,485.39 546.92,483.81 547.35,482.28 547.78,480.82 548.2,479.44 548.63,478.2 549.06,477.13 549.48,476.31 549.91,475.82 550.34,475.71 550.76,476 551.19,476.65 551.62,477.58 552.04,478.74 552.47,480.05 552.9,481.46 553.32,482.96 553.75,484.52 554.18,486.11 554.6,487.74 555.03,489.39 555.46,491.05 555.88,492.73 556.31,494.41 556.74,496.09 557.16,497.78 557.59,499.45 558.02,501.12 558.44,502.78 558.87,504.42 559.3,506.03 559.72,507.61 560.15,509.14 560.58,510.61 561,511.98 561.43,513.22 561.86,514.28 562.28,515.1 562.71,515.58 563.14,515.69 563.56,515.39 563.99,514.74 564.42,513.8 564.84,512.64 565.27,511.33 565.7,509.91 566.13,508.41 566.55,506.86 566.98,505.26 567.41,503.63 567.83,501.98 568.26,500.32 568.69,498.64 569.11,496.96 569.54,495.28 569.97,493.6 570.39,491.92 570.82,490.25 571.25,488.59 571.67,486.95 572.1,485.34 572.53,483.76 572.95,482.23 573.38,480.77 573.81,479.4 574.23,478.16 574.66,477.1 575.09,476.29 575.51,475.81 575.94,475.71 576.37,476.01 576.79,476.67 577.22,477.62 577.65,478.78 578.07,480.09 578.5,481.51 578.93,483.01 579.35,484.57 579.78,486.17 580.21,487.8 580.63,489.44 581.06,491.11 581.49,492.78 581.91,494.47 582.34,496.15 582.77,497.83 583.2,499.51 583.62,501.18 584.05,502.84 584.48,504.48 584.9,506.09 585.33,507.67 585.76,509.2 586.18,510.66 586.61,512.03 587.04,513.26 587.46,514.32 587.89,515.12 588.32,515.59 588.74,515.68 589.17,515.38 589.6,514.71 590.02,513.76 590.45,512.6 590.88,511.28 591.3,509.86 591.73,508.36 592.16,506.8 592.58,505.2 593.01,503.58 593.44,501.93 593.86,500.26 594.29,498.59 594.72,496.9 595.14,495.22 595.57,493.54 596,491.86 596.42,490.19 596.85,488.53 597.28,486.89 597.7,485.28 598.13,483.71 598.56,482.18 598.98,480.72 599.41,479.35 599.84,478.12 600.26,477.07 600.69,476.27 601.12,475.8 601.55,475.72 601.97,476.03 602.4,476.7 602.83,477.66 603.25,478.82 603.68,480.14 604.11,481.57 604.53,483.07 604.96,484.63 605.39,486.22 605.81,487.85 606.24,489.5 606.67,491.17 607.09,492.84 607.52,494.52 607.95,496.21 608.37,497.89 608.8,499.57 609.23,501.24 609.65,502.9 610.08,504.53 610.51,506.14 610.93,507.72 611.36,509.25 611.79,510.71 612.21,512.07 612.64,513.3 613.07,514.35 613.49,515.14 613.92,515.6 614.35,515.68 614.77,515.36 615.2,514.68 615.63,513.72 616.05,512.56 616.48,511.24 616.91,509.81 617.33,508.31 617.76,506.75 618.19,505.15 618.61,503.52 619.04,501.87 619.47,500.2 619.9,498.53 620.32,496.85 620.75,495.16 621.18,493.48 621.6,491.8 622.03,490.13 622.46,488.48 622.88,486.84 623.31,485.23 623.74,483.65 624.16,482.13 624.59,480.67 625.02,479.31 625.44,478.08 625.87,477.03 626.3,476.25 626.72,475.79 627.15,475.72 627.58,476.05 628,476.73 628.43,477.69 628.86,478.87 629.28,480.19 629.71,481.62 630.14,483.12 630.56,484.68 630.99,486.28 631.42,487.91 631.84,489.56 632.27,491.22 632.7,492.9 633.12,494.58 633.55,496.27 633.98,497.95 634.4,499.63 634.83,501.3 635.26,502.95 635.68,504.59 636.11,506.2 636.54,507.77 636.96,509.3 637.39,510.75 637.82,512.12 638.25,513.34 638.67,514.38 639.1,515.16 639.53,515.61 639.95,515.68 640.38,515.34 640.81,514.66 641.23,513.69 641.66,512.51 642.09,511.19 642.51,509.76 642.94,508.25 643.37,506.69 643.79,505.09 644.22,503.46 644.65,501.81 645.07,500.15 645.5,498.47 645.93,496.79 646.35,495.1 646.78,493.42 647.21,491.74 647.63,490.07 648.06,488.42 648.49,486.78 648.91,485.17 649.34,483.6 649.77,482.08 650.19,480.62 650.62,479.26 651.05,478.04 651.47,477 651.9,476.23 652.33,475.78 652.75,475.73 653.18,476.07 653.61,476.76 654.03,477.73 654.46,478.91 654.89,480.24 655.31,481.67 655.74,483.17 656.17,484.73 656.6,486.34 657.02,487.97 657.45,489.62 657.88,491.28 658.3,492.96 658.73,494.64 659.16,496.32 659.58,498.01 660.01,499.69 660.44,501.35 660.86,503.01 661.29,504.65 661.72,506.25 662.14,507.83 662.57,509.35 663,510.8 663.42,512.16 663.85,513.38 664.28,514.41 664.7,515.18 665.13,515.62 665.56,515.67 665.98,515.32 666.41,514.63 666.84,513.65 667.26,512.47 667.69,511.14 668.12,509.71 668.54,508.2 668.97,506.64 669.4,505.04 669.82,503.41 670.25,501.75 670.68,500.09 671.1,498.41 671.53,496.73 671.96,495.05 672.38,493.36 672.81,491.69 673.24,490.02 673.67,488.36 674.09,486.73 674.52,485.12 674.95,483.55 675.37,482.02 675.8,480.57 676.23,479.22 676.65,478 677.08,476.97 677.51,476.2 677.93,475.77 678.36,475.73 678.79,476.09 679.21,476.79 679.64,477.77 680.07,478.95 680.49,480.28 680.92,481.72 681.35,483.23 681.77,484.79 682.2,486.39 682.63,488.02 683.05,489.67 683.48,491.34 683.91,493.02 684.33,494.7 684.76,496.38 685.19,498.07 685.61,499.74 686.04,501.41 686.47,503.07 686.89,504.7 687.32,506.31 687.75,507.88 688.17,509.4 688.6,510.85 689.03,512.2 689.45,513.42 689.88,514.44 690.31,515.21 690.73,515.63 691.16,515.67 691.59,515.31 692.02,514.6 692.44,513.61 692.87,512.43 693.3,511.09 693.72,509.66 694.15,508.15 694.58,506.58 695,504.98 695.43,503.35 695.86,501.7 696.28,500.03 696.71,498.35 697.14,496.67 697.56,494.99 697.99,493.31 698.42,491.63 698.84,489.96 699.27,488.31 699.7,486.67 700.12,485.06 700.55,483.49 700.98,481.97 701.4,480.52 701.83,479.17 702.26,477.96 702.68,476.94 703.11,476.18 703.54,475.77 703.96,475.74 704.39,476.1 704.82,476.82 705.24,477.81 705.67,479 706.1,480.33 706.52,481.77 706.95,483.28 707.38,484.84 707.8,486.45 708.23,488.08 708.66,489.73 709.08,491.4 709.51,493.07 709.94,494.76 710.37,496.44 710.79,498.12 711.22,499.8 711.65,501.47 712.07,503.12 712.5,504.76 712.93,506.36 713.35,507.93 713.78,509.45 714.21,510.9 714.63,512.25 715.06,513.46 715.49,514.48 715.91,515.23 716.34,515.64 716.77,515.66 717.19,515.29 717.62,514.57 718.05,513.57 718.47,512.38 718.9,511.05 719.33,509.61 719.75,508.09 720.18,506.53 720.61,504.92 721.03,503.29 721.46,501.64 721.89,499.97 722.31,498.3 722.74,496.61 723.17,494.93 723.59,493.25 724.02,491.57 724.45,489.9 724.87,488.25 725.3,486.61 725.73,485.01 726.15,483.44 726.58,481.92 727.01,480.48 727.43,479.13 727.86,477.92 728.29,476.91 728.72,476.16 729.14,475.76 729.57,475.74 730,476.12 730.42,476.85 730.85,477.84 731.28,479.04 731.7,480.38 732.13,481.82 732.56,483.33 732.98,484.9 733.41,486.5 733.84,488.14 734.26,489.79 734.69,491.46 735.12,493.13 735.54,494.81 735.97,496.5 736.4,498.18 736.82,499.86 737.25,501.53 737.68,503.18 738.1,504.81 738.53,506.42 738.96,507.99 739.38,509.5 739.81,510.95 740.24,512.29 740.66,513.5 741.09,514.51 741.52,515.25 741.94,515.65 742.37,515.65 742.8,515.27 743.22,514.54 743.65,513.54 744.08,512.34 744.5,511 744.93,509.56 745.36,508.04 745.78,506.47 746.21,504.87 746.64,503.24 747.07,501.58 747.49,499.92 747.92,498.24 748.35,496.56 748.77,494.87 749.2,493.19 749.63,491.51 750.05,489.85 750.48,488.19 750.91,486.56 751.33,484.95 751.76,483.39 752.19,481.87 752.61,480.43 753.04,479.08 753.47,477.88 753.89,476.88 754.32,476.14 754.75,475.75 755.17,475.75 755.6,476.14 756.03,476.88 756.45,477.88 756.88,479.08 757.31,480.43 757.73,481.87 758.16,483.39 758.59,484.95 759.01,486.56 759.44,488.19 759.87,489.85 760.29,491.51 760.72,493.19 761.15,494.87 761.57,496.56 762,498.24 762.43,499.92 762.85,501.58 763.28,503.24 763.71,504.87 764.14,506.47 764.56,508.04 764.99,509.56 765.42,511 765.84,512.34 766.27,513.54 766.7,514.54 767.12,515.27 767.55,515.65 767.98,515.65 768.4,515.25 768.83,514.51 769.26,513.5 769.68,512.29 770.11,510.95 770.54,509.5 770.96,507.99 771.39,506.42 771.82,504.81 772.24,503.18 772.67,501.53 773.1,499.86 773.52,498.18 773.95,496.5 774.38,494.81 774.8,493.13 775.23,491.46 775.66,489.79 776.08,488.14 776.51,486.5 776.94,484.9 777.36,483.33 777.79,481.82 778.22,480.38 778.64,479.04 779.07,477.84 779.5,476.85 779.92,476.12 780.35,475.74 780.78,475.76 781.2,476.16 781.63,476.91 782.06,477.92 782.49,479.13 782.91,480.48 783.34,481.92 783.77,483.44 784.19,485.01 784.62,486.61 785.05,488.25 785.47,489.9 785.9,491.57 786.33,493.25 786.75,494.93 787.18,496.61 787.61,498.3 788.03,499.97 788.46,501.64 788.89,503.29 789.31,504.92 789.74,506.53 790.17,508.09 790.59,509.61 791.02,511.05 791.45,512.38 791.87,513.57 792.3,514.57 792.73,515.29 793.15,515.66 793.58,515.64 794.01,515.23 794.43,514.48 794.86,513.46 795.29,512.25 795.71,510.9 796.14,509.45 796.57,507.93 796.99,506.36 797.42,504.76 797.85,503.12 798.27,501.47 798.7,499.8 799.13,498.12 799.55,496.44 799.98,494.76 800.41,493.07 800.84,491.4 801.26,489.73 801.69,488.08 802.12,486.45 802.54,484.84 802.97,483.28 803.4,481.77 803.82,480.33 804.25,479 804.68,477.81 805.1,476.82 805.53,476.1 805.96,475.74 806.38,475.77 806.81,476.18 807.24,476.94 807.66,477.96 808.09,479.17 808.52,480.52 808.94,481.97 809.37,483.49 809.8,485.06 810.22,486.67 810.65,488.31 811.08,489.96 811.5,491.63 811.93,493.31 812.36,494.99 812.78,496.67 813.21,498.35 813.64,500.03 814.06,501.7 814.49,503.35 814.92,504.98 815.34,506.58 815.77,508.15 816.2,509.66 816.62,511.09 817.05,512.43 817.48,513.61 817.9,514.6 818.33,515.31 818.76,515.67 819.19,515.63 819.61,515.21 820.04,514.44 820.47,513.42 820.89,512.2 821.32,510.85 821.75,509.4 822.17,507.88 822.6,506.31 823.03,504.7 823.45,503.07 823.88,501.41 824.31,499.74 824.73,498.07 825.16,496.38 825.59,494.7 826.01,493.02 826.44,491.34 826.87,489.67 827.29,488.02 827.72,486.39 828.15,484.79 828.57,483.23 829,481.72 829.43,480.28 829.85,478.95 830.28,477.77 830.71,476.79 831.13,476.09 831.56,475.73 831.99,475.77 832.41,476.2 832.84,476.97 833.27,478 833.69,479.22 834.12,480.57 834.55,482.02 834.97,483.55 835.4,485.12 835.83,486.73 836.25,488.36 836.68,490.02 837.11,491.69 837.54,493.36 837.96,495.05 838.39,496.73 838.82,498.41 839.24,500.09 839.67,501.75 840.1,503.41 840.52,505.04 840.95,506.64 841.38,508.2 841.8,509.71 842.23,511.14 842.66,512.47 843.08,513.65 843.51,514.63 843.94,515.32 844.36,515.67 844.79,515.62 845.22,515.18 845.64,514.41 846.07,513.38 846.5,512.16 846.92,510.8 847.35,509.35 847.78,507.83 848.2,506.25 848.63,504.65 849.06,503.01 849.48,501.35 849.91,499.69 850.34,498.01 850.76,496.32 851.19,494.64 851.62,492.96 852.04,491.28 852.47,489.62 852.9,487.97 853.32,486.34 853.75,484.73 854.18,483.17 854.61,481.67 855.03,480.24 855.46,478.91 855.89,477.73 856.31,476.76 856.74,476.07 857.17,475.73 857.59,475.78 858.02,476.23 858.45,477 858.87,478.04 859.3,479.26 859.73,480.62 860.15,482.08 860.58,483.6 861.01,485.17 861.43,486.78 861.86,488.42 862.29,490.07 862.71,491.74 863.14,493.42 863.57,495.1 863.99,496.79 864.42,498.47 864.85,500.15 865.27,501.81 865.7,503.46 866.13,505.09 866.55,506.69 866.98,508.25 867.41,509.76 867.83,511.19 868.26,512.51 868.69,513.69 869.11,514.66 869.54,515.34 869.97,515.68 870.39,515.61 870.82,515.16 871.25,514.38 871.67,513.34 872.1,512.12 872.53,510.75 872.96,509.3 873.38,507.77 873.81,506.2 874.24,504.59 874.66,502.95 875.09,501.3 875.52,499.63 875.94,497.95 876.37,496.27 876.8,494.58 877.22,492.9 877.65,491.22 878.08,489.56 878.5,487.91 878.93,486.28 879.36,484.68 879.78,483.12 880.21,481.62 880.64,480.19 881.06,478.87 881.49,477.69 881.92,476.73 882.34,476.05 882.77,475.72 883.2,475.79 883.62,476.25 884.05,477.03 884.48,478.08 884.9,479.31 885.33,480.67 885.76,482.13 886.18,483.65 886.61,485.23 887.04,486.84 887.46,488.48 887.89,490.13 888.32,491.8 888.74,493.48 889.17,495.16 889.6,496.85 890.02,498.53 890.45,500.2 890.88,501.87 891.31,503.52 891.73,505.15 892.16,506.75 892.59,508.31 893.01,509.81 893.44,511.24 893.87,512.56 894.29,513.72 894.72,514.68 895.15,515.36 895.57,515.68 896,515.6 896.43,515.14 896.85,514.35 897.28,513.3 897.71,512.07 898.13,510.71 898.56,509.25 898.99,507.72 899.41,506.14 899.84,504.53 900.27,502.9 900.69,501.24 901.12,499.57 901.55,497.89 901.97,496.21 902.4,494.52 902.83,492.84 903.25,491.17 903.68,489.5 904.11,487.85 904.53,486.22 904.96,484.63 905.39,483.07 905.81,481.57 906.24,480.14 906.67,478.82 907.09,477.66 907.52,476.7 907.95,476.03 908.37,475.72 908.8,475.8 909.23,476.27 909.66,477.07 910.08,478.12 910.51,479.35 910.94,480.72 911.36,482.18 911.79,483.71 912.22,485.28 912.64,486.89 913.07,488.53 913.5,490.19 913.92,491.86 914.35,493.54 914.78,495.22 915.2,496.9 915.63,498.59 916.06,500.26 916.48,501.93 916.91,503.58 917.34,505.2 917.76,506.8 918.19,508.36 918.62,509.86 919.04,511.28 919.47,512.6 919.9,513.76 920.32,514.71 920.75,515.38 921.18,515.68 921.6,515.59 922.03,515.12 922.46,514.32 922.88,513.26 923.31,512.03 923.74,510.66 924.16,509.2 924.59,507.67 925.02,506.09 925.44,504.48 925.87,502.84 926.3,501.18 926.72,499.51 927.15,497.83 927.58,496.15 928.01,494.47 928.43,492.78 928.86,491.11 929.29,489.44 929.71,487.8 930.14,486.17 930.57,484.57 930.99,483.01 931.42,481.51 931.85,480.09 932.27,478.78 932.7,477.62 933.13,476.67 933.55,476.01 933.98,475.71 934.41,475.81 934.83,476.29 935.26,477.1 935.69,478.16 936.11,479.4 936.54,480.77 936.97,482.23 937.39,483.76 937.82,485.34 938.25,486.95 938.67,488.59 939.1,490.25 939.53,491.92 939.95,493.6 940.38,495.28 940.81,496.96 941.23,498.64 941.66,500.32 942.09,501.98 942.51,503.63 942.94,505.26 943.37,506.86 943.79,508.41 944.22,509.91 944.65,511.33 945.08,512.64 945.5,513.8 945.93,514.74 946.36,515.39 946.78,515.69 947.21,515.58 947.64,515.1 948.06,514.28 948.49,513.22 948.92,511.98 949.34,510.61 949.77,509.14 950.2,507.61 950.62,506.03 951.05,504.42 951.48,502.78 951.9,501.12 952.33,499.45 952.76,497.78 953.18,496.09 953.61,494.41 954.04,492.73 954.46,491.05 954.89,489.39 955.32,487.74 955.74,486.11 956.17,484.52 956.6,482.96 957.02,481.46 957.45,480.05 957.88,478.74 958.3,477.58 958.73,476.65 959.16,476 959.58,475.71 960.01,475.82 960.44,476.31 960.86,477.13 961.29,478.2 961.72,479.44 962.14,480.82 962.57,482.28 963,483.81 963.43,485.39 963.85,487.01 964.28,488.65 964.71,490.3 965.13,491.97 965.56,493.65 965.99,495.34 966.41,497.02 966.84,498.7 967.27,500.38 967.69,502.04 968.12,503.69 968.55,505.31 968.97,506.91 969.4,508.46 969.83,509.96 970.25,511.38 970.68,512.68 971.11,513.84 971.53,514.77 971.96,515.41 972.39,515.69 972.81,515.57 973.24,515.07 973.67,514.25 974.09,513.18 974.52,511.93 974.95,510.56 975.37,509.09 975.8,507.56 976.23,505.98 976.65,504.36 977.08,502.73 977.51,501.07 977.93,499.4 978.36,497.72 978.79,496.03 979.21,494.35 979.64,492.67 980.07,490.99 980.49,489.33 980.92,487.68 981.35,486.06 981.78,484.46 982.2,482.91 982.63,481.41 983.06,480 983.48,478.69 983.91,477.55 984.34,476.62 984.76,475.98 985.19,475.71 985.62,475.83 986.04,476.34 986.47,477.17 986.9,478.24 987.32,479.49 987.75,480.87 988.18,482.33 988.6,483.87 989.03,485.45 989.46,487.06 989.88,488.7 990.31,490.36 990.74,492.03 991.16,493.71 991.59,495.4 992.02,497.08 992.44,498.76 992.87,500.43 993.3,502.1 993.72,503.75 994.15,505.37 994.58,506.96 995,508.52 995.43,510.01 995.86,511.43 996.28,512.73 996.71,513.87 997.14,514.8 997.56,515.43 997.99,515.69 998.42,515.56 998.84,515.05 999.27,514.22 999.7,513.14 1000.13,511.89 1000.55,510.51 1000.98,509.04 1001.41,507.51 1001.83,505.92 1002.26,504.31 1002.69,502.67 1003.11,501.01 1003.54,499.34 1003.97,497.66 1004.39,495.98 1004.82,494.29 1005.25,492.61 1005.67,490.94 1006.1,489.27 1006.53,487.63 1006.95,486 1007.38,484.41 1007.81,482.86 1008.23,481.36 1008.66,479.95 1009.09,478.65 1009.51,477.51 1009.94,476.59 1010.37,475.97 1010.79,475.7 1011.22,475.84 1011.65,476.36 1012.07,477.2 1012.5,478.28 1012.93,479.53 1013.35,480.92 1013.78,482.39 1014.21,483.92 1014.63,485.5 1015.06,487.12 1015.49,488.76 1015.91,490.42 1016.34,492.09 1016.77,493.77 1017.19,495.45 1017.62,497.14 1018.05,498.82 1018.48,500.49 1018.9,502.16 1019.33,503.8 1019.76,505.43 1020.18,507.02 1020.61,508.57 1021.04,510.06 1021.46,511.47 1021.89,512.77 1022.32,513.91 1022.74,514.82 1023.17,515.44 1023.6,515.7 1024.02,515.55 1024.45,515.03 1024.88,514.18 1025.3,513.1 1025.73,511.84 1026.16,510.46 1026.58,508.99 1027.01,507.45 1027.44,505.87 1027.86,504.25 1028.29,502.61 1028.72,500.95 1029.14,499.28 1029.57,497.6 1030,495.92 1030.42,494.23 1030.85,492.55 1031.28,490.88 1031.7,489.22 1032.13,487.57 1032.56,485.95 1032.98,484.35 1033.41,482.8 1033.84,481.31 1034.26,479.9 1034.69,478.61 1035.12,477.47 1035.55,476.56 1035.97,475.95 1036.4,475.7 1036.83,475.86 1037.25,476.39 1037.68,477.23 1038.11,478.32 1038.53,479.58 1038.96,480.96 1039.39,482.44 1039.81,483.98 1040.24,485.56 1040.67,487.18 1041.09,488.82 1041.52,490.48 1041.95,492.15 1042.37,493.83 1042.8,495.51 1043.23,497.2 1043.65,498.88 1044.08,500.55 1044.51,502.21 1044.93,503.86 1045.36,505.48 1045.79,507.07 1046.21,508.62 1046.64,510.11 1047.07,511.52 1047.49,512.81 1047.92,513.94 1048.35,514.85 1048.77,515.46 1049.2,515.7 1049.63,515.54 1050.05,515 1050.48,514.15 1050.91,513.06 1051.33,511.8 1051.76,510.41 1052.19,508.94 1052.61,507.4 1053.04,505.81 1053.47,504.2 1053.9,502.55 1054.32,500.89 1054.75,499.22 1055.18,497.54 1055.6,495.86 1056.03,494.18 1056.46,492.5 1056.88,490.82 1057.31,489.16 1057.74,487.51 1058.16,485.89 1058.59,484.3 1059.02,482.75 1059.44,481.26 1059.87,479.86 1060.3,478.57 1060.72,477.44 1061.15,476.54 1061.58,475.94 1062,475.7 1062.43,475.87 1062.86,476.41 1063.28,477.27 1063.71,478.36 1064.14,479.63 1064.56,481.01 1064.99,482.49 1065.42,484.03 1065.84,485.61 1066.27,487.23 1066.7,488.87 1067.12,490.53 1067.55,492.21 1067.98,493.89 1068.4,495.57 1068.83,497.25 1069.26,498.93 1069.68,500.61 1070.11,502.27 1070.54,503.91 1070.96,505.54 1071.39,507.13 1071.82,508.67 1072.25,510.16 1072.67,511.57 1073.1,512.85 1073.53,513.98 1073.95,514.88 1074.38,515.47 1074.81,515.7 1075.23,515.53 1075.66,514.98 1076.09,514.12 1076.51,513.02 1076.94,511.75 1077.37,510.36 1077.79,508.88 1078.22,507.34 1078.65,505.76 1079.07,504.14 1079.5,502.5 1079.93,500.84 1080.35,499.17 1080.78,497.49 1081.21,495.8 1081.63,494.12 1082.06,492.44 1082.49,490.76 1082.91,489.1 1083.34,487.46 1083.77,485.84 1084.19,484.25 1084.62,482.7 1085.05,481.21 1085.47,479.81 1085.9,478.53 1086.33,477.4 1086.75,476.51 1087.18,475.92 1087.61,475.7 1088.03,475.88 1088.46,476.43 1088.89,477.3 1089.31,478.4 1089.74,479.67 1090.17,481.06 1090.6,482.54 1091.02,484.08 1091.45,485.67 1091.88,487.29 1092.3,488.93 1092.73,490.59 1093.16,492.26 1093.58,493.94 1094.01,495.63 1094.44,497.31 1094.86,498.99 1095.29,500.66 1095.72,502.33 1096.14,503.97 1096.57,505.59 1097,507.18 1097.42,508.73 1097.85,510.21 1098.28,511.61 1098.7,512.9 1099.13,514.01 1099.56,514.9 1099.98,515.49 1100.41,515.7 1100.84,515.51 1101.26,514.95 1101.69,514.08 1102.12,512.98 1102.54,511.71 1102.97,510.31 1103.4,508.83 1103.82,507.29 1104.25,505.7 1104.68,504.08 1105.1,502.44 1105.53,500.78 1105.96,499.11 1106.38,497.43 1106.81,495.74 1107.24,494.06 1107.66,492.38 1108.09,490.71 1108.52,489.05 1108.95,487.4 1109.37,485.78 1109.8,484.19 1110.23,482.65 1110.65,481.16 1111.08,479.76 1111.51,478.48 1111.93,477.37 1112.36,476.49 1112.79,475.91 1113.21,475.7 1113.64,475.89 1114.07,476.46 1114.49,477.33 1114.92,478.44 1115.35,479.72 1115.77,481.11 1116.2,482.59 1116.63,484.14 1117.05,485.72 1117.48,487.34 1117.91,488.99 1118.33,490.65 1118.76,492.32 1119.19,494 1119.61,495.69 1120.04,497.37 1120.47,499.05 1120.89,500.72 1121.32,502.38 1121.75,504.03 1122.17,505.65 1122.6,507.24 1123.03,508.78 1123.45,510.26 1123.88,511.66 1124.31,512.94 1124.73,514.05 1125.16,514.93 1125.59,515.5 1126.01,515.7 Q1127.51,515.7 1128.41,507 C1130.5,490 1139,477.3 1163,477.3 L1187,477.3" fill="none" stroke="#121212" stroke-width="3.9" stroke-linejoin="round"/>
<g transform="translate(263.3,478.2) scale(0.86)">
<rect x="0" y="-7.2" width="13.5" height="14.4" rx="1.5" fill="#8e8e8e"/>
<rect x="0.5" y="-7.2" width="12.5" height="2" fill="#b9b9b9"/>
<rect x="0.5" y="5.2" width="12.5" height="2" fill="#b0b0b0"/>
<path d="M12.9,-8.5 Q12.9,-9.5 14,-9.5 L46,-9.5 Q47,-9.5 47.8,-8.8 C51,-6.5 55,-5.5 65.7,-5.3 L65.7,5.3 C55,5.5 51,6.5 47.8,8.8 Q47,9.5 46,9.5 L14,9.5 Q12.9,9.5 12.9,8.5 Z" fill="#2c2c2c"/>
<rect x="65.2" y="-5.8" width="4.7" height="11.6" rx="1.8" fill="#262626"/>
<rect x="13.6" y="-7.6" width="33.6" height="1.8" fill="#8a8a8a"/>
<rect x="13.6" y="5.4" width="33.6" height="1.8" fill="#8a8a8a"/>
<text transform="translate(29.4,0) rotate(180)" x="0" y="2.9" text-anchor="middle" font-family="Liberation Sans" font-weight="bold" font-size="7.8" fill="#f2f2f2" textLength="27.6" lengthAdjust="spacingAndGlyphs">ACVEE</text>
</g>
<g transform="translate(1249.8,478.5) scale(0.86)">
<rect x="-23.6" y="-10.95" width="23.6" height="21.9" fill="#9c9c9c"/>
<rect x="-23.6" y="-10.95" width="23.6" height="1.6" fill="#b4b4b4"/>
<rect x="-13.4" y="-7.9" width="3.8" height="3.4" fill="#3a3a3a"/>
<rect x="-13.4" y="3.9" width="3.8" height="4.2" fill="#3a3a3a"/>
<path d="M-23.4,-13.65 L-50.5,-13.65 Q-51.6,-13.65 -52.3,-12.6 C-55,-8.6 -60,-6.3 -70.8,-6.2 L-70.8,6.2 C-60,6.3 -55,8.6 -52.3,12.6 Q-51.6,13.65 -50.5,13.65 L-23.4,13.65 Z" fill="#2c2c2c"/>
<rect x="-75" y="-6.3" width="4.8" height="12.6" rx="1.8" fill="#262626"/>
<rect x="-50" y="-11" width="26.6" height="1.8" fill="#808080"/>
<rect x="-50" y="9.8" width="26.6" height="1.8" fill="#808080"/>
<g fill="#f4f4f4" stroke="#f4f4f4" transform="translate(-37.8,0) scale(0.88) translate(37.8,0)">
<circle cx="-44.4" cy="0" r="2.3" stroke="none"/>
<path d="M-44,0 L-27.5,0 M-40,0 L-36.8,-3.2 L-32.5,-3.2 M-38.5,0 L-35.3,3.2 L-31.5,3.2" stroke-width="1.5" fill="none"/>
<circle cx="-32" cy="-3.2" r="1.5" stroke="none"/>
<circle cx="-31" cy="3.2" r="1.5" stroke="none"/>
<circle cx="-27" cy="0" r="1.5" stroke="none"/>
</g>
</g></g>
<g filter="url(#sh3)"><path d="M119,665.4 L166.5,665.4 Q169.5,665.4 170.3,669.5 L171.6,677 Q172.6,681 176.05,681 L 176.05,681 177.25,680.91 178.45,680.64 179.64,680.2 180.84,679.6 182.04,678.85 183.24,677.97 184.43,676.99 185.63,675.92 186.83,674.8 188.03,673.65 189.22,672.5 190.42,671.38 191.62,670.31 192.81,669.33 194.01,668.45 195.21,667.7 196.41,667.1 197.61,666.66 198.8,666.39 200,666.3 201.2,666.39 202.4,666.66 203.59,667.1 204.79,667.7 205.99,668.45 207.19,669.33 208.38,670.31 209.58,671.38 210.78,672.5 211.98,673.65 213.17,674.8 214.37,675.92 215.57,676.99 216.77,677.97 217.96,678.85 219.16,679.6 220.36,680.2 221.56,680.64 222.75,680.91 223.95,681 225.15,680.91 226.34,680.64 227.54,680.2 228.74,679.6 229.94,678.85 231.14,677.97 232.33,676.99 233.53,675.92 234.73,674.8 235.93,673.65 237.12,672.5 238.32,671.38 239.52,670.31 240.72,669.33 241.91,668.45 243.11,667.7 244.31,667.1 245.5,666.66 246.7,666.39 247.9,666.3 249.1,666.39 250.3,666.66 251.49,667.1 252.69,667.7 253.89,668.45 255.09,669.33 256.28,670.31 257.48,671.38 258.68,672.5 259.88,673.65 261.07,674.8 262.27,675.92 263.47,676.99 264.67,677.97 265.86,678.85 267.06,679.6 268.26,680.2 269.45,680.64 270.65,680.91 271.85,681 273.05,680.91 274.25,680.64 275.44,680.2 276.64,679.6 277.84,678.85 279.03,677.97 280.23,676.99 281.43,675.92 282.63,674.8 283.82,673.65 285.02,672.5 286.22,671.38 287.42,670.31 288.62,669.33 289.81,668.45 291.01,667.7 292.21,667.1 293.4,666.66 294.6,666.39 295.8,666.3 297,666.39 298.19,666.66 299.39,667.1 300.59,667.7 301.79,668.45 302.99,669.33 304.18,670.31 305.38,671.38 306.58,672.5 307.77,673.65 308.97,674.8 310.17,675.92 311.37,676.99 312.56,677.97 313.76,678.85 314.96,679.6 316.16,680.2 317.36,680.64 318.55,680.91 319.75,681 320.95,680.91 322.14,680.64 323.34,680.2 324.54,679.6 325.74,678.85 326.93,677.97 328.13,676.99 329.33,675.92 330.53,674.8 331.73,673.65 332.92,672.5 334.12,671.38 335.32,670.31 336.51,669.33 337.71,668.45 338.91,667.7 340.11,667.1 341.31,666.66 342.5,666.39 343.7,666.3 344.9,666.39 346.1,666.66 347.29,667.1 348.49,667.7 349.69,668.45 350.88,669.33 352.08,670.31 353.28,671.38 354.48,672.5 355.68,673.65 356.87,674.8 358.07,675.92 359.27,676.99 360.47,677.97 361.66,678.85 362.86,679.6 364.06,680.2 365.25,680.64 366.45,680.91 367.65,681 368.85,680.91 370.04,680.64 371.24,680.2 372.44,679.6 373.64,678.85 374.83,677.97 376.03,676.99 377.23,675.92 378.43,674.8 379.62,673.65 380.82,672.5 382.02,671.38 383.22,670.31 384.41,669.33 385.61,668.45 386.81,667.7 388.01,667.1 389.21,666.66 390.4,666.39 391.6,666.3 392.8,666.39 394,666.66 395.19,667.1 396.39,667.7 397.59,668.45 398.78,669.33 399.98,670.31 401.18,671.38 402.38,672.5 403.57,673.65 404.77,674.8 405.97,675.92 407.17,676.99 408.37,677.97 409.56,678.85 410.76,679.6 411.96,680.2 413.15,680.64 414.35,680.91 415.55,681 416.75,680.91 417.94,680.64 419.14,680.2 420.34,679.6 421.54,678.85 422.74,677.97 423.93,676.99 425.13,675.92 426.33,674.8 427.52,673.65 428.72,672.5 429.92,671.38 431.12,670.31 432.31,669.33 433.51,668.45 434.71,667.7 435.91,667.1 437.11,666.66 438.3,666.39 439.5,666.3 440.7,666.39 441.89,666.66 443.09,667.1 444.29,667.7 445.49,668.45 446.69,669.33 447.88,670.31 449.08,671.38 450.28,672.5 451.48,673.65 452.67,674.8 453.87,675.92 455.07,676.99 456.26,677.97 457.46,678.85 458.66,679.6 459.86,680.2 461.06,680.64 462.25,680.91 463.45,681 464.65,680.91 465.84,680.64 467.04,680.2 468.24,679.6 469.44,678.85 470.63,677.97 471.83,676.99 473.03,675.92 474.23,674.8 475.43,673.65 476.62,672.5 477.82,671.38 479.02,670.31 480.21,669.33 481.41,668.45 482.61,667.7 483.81,667.1 485,666.66 486.2,666.39 487.4,666.3 488.6,666.39 489.79,666.66 490.99,667.1 492.19,667.7 493.39,668.45 494.58,669.33 495.78,670.31 496.98,671.38 498.18,672.5 499.38,673.65 500.57,674.8 501.77,675.92 502.97,676.99 504.16,677.97 505.36,678.85 506.56,679.6 507.76,680.2 508.95,680.64 510.15,680.91 511.35,681 512.55,680.91 513.74,680.64 514.94,680.2 516.14,679.6 517.34,678.85 518.53,677.97 519.73,676.99 520.93,675.92 522.13,674.8 523.33,673.65 524.52,672.5 525.72,671.38 526.92,670.31 528.12,669.33 529.31,668.45 530.51,667.7 531.71,667.1 532.9,666.66 534.1,666.39 535.3,666.3 536.5,666.39 537.69,666.66 538.89,667.1 540.09,667.7 541.29,668.45 542.49,669.33 543.68,670.31 544.88,671.38 546.08,672.5 547.28,673.65 548.47,674.8 549.67,675.92 550.87,676.99 552.07,677.97 553.26,678.85 554.46,679.6 555.66,680.2 556.86,680.64 558.05,680.91 559.25,681 560.45,680.91 561.64,680.64 562.84,680.2 564.04,679.6 565.24,678.85 566.43,677.97 567.63,676.99 568.83,675.92 570.03,674.8 571.22,673.65 572.42,672.5 573.62,671.38 574.82,670.31 576.01,669.33 577.21,668.45 578.41,667.7 579.61,667.1 580.81,666.66 582,666.39 583.2,666.3 584.4,666.39 585.6,666.66 586.79,667.1 587.99,667.7 589.19,668.45 590.38,669.33 591.58,670.31 592.78,671.38 593.98,672.5 595.17,673.65 596.37,674.8 597.57,675.92 598.77,676.99 599.96,677.97 601.16,678.85 602.36,679.6 603.56,680.2 604.75,680.64 605.95,680.91 607.15,681 608.35,680.91 609.54,680.64 610.74,680.2 611.94,679.6 613.14,678.85 614.34,677.97 615.53,676.99 616.73,675.92 617.93,674.8 619.12,673.65 620.32,672.5 621.52,671.38 622.72,670.31 623.91,669.33 625.11,668.45 626.31,667.7 627.51,667.1 628.7,666.66 629.9,666.39 631.1,666.3 632.3,666.39 633.49,666.66 634.69,667.1 635.89,667.7 637.09,668.45 638.28,669.33 639.48,670.31 640.68,671.38 641.88,672.5 643.07,673.65 644.27,674.8 645.47,675.92 646.67,676.99 647.87,677.97 649.06,678.85 650.26,679.6 651.46,680.2 652.65,680.64 653.85,680.91 655.05,681 656.25,680.91 657.44,680.64 658.64,680.2 659.84,679.6 661.04,678.85 662.24,677.97 663.43,676.99 664.63,675.92 665.83,674.8 667.02,673.65 668.22,672.5 669.42,671.38 670.62,670.31 671.82,669.33 673.01,668.45 674.21,667.7 675.41,667.1 676.61,666.66 677.8,666.39 679,666.3 680.2,666.39 681.39,666.66 682.59,667.1 683.79,667.7 684.99,668.45 686.18,669.33 687.38,670.31 688.58,671.38 689.78,672.5 690.97,673.65 692.17,674.8 693.37,675.92 694.57,676.99 695.76,677.97 696.96,678.85 698.16,679.6 699.36,680.2 700.56,680.64 701.75,680.91 702.95,681 704.15,680.91 705.35,680.64 706.54,680.2 707.74,679.6 708.94,678.85 710.13,677.97 711.33,676.99 712.53,675.92 713.73,674.8 714.92,673.65 716.12,672.5 717.32,671.38 718.52,670.31 719.71,669.33 720.91,668.45 722.11,667.7 723.31,667.1 724.5,666.66 725.7,666.39 726.9,666.3 728.1,666.39 729.3,666.66 730.49,667.1 731.69,667.7 732.89,668.45 734.09,669.33 735.28,670.31 736.48,671.38 737.68,672.5 738.88,673.65 740.07,674.8 741.27,675.92 742.47,676.99 743.66,677.97 744.86,678.85 746.06,679.6 747.26,680.2 748.45,680.64 749.65,680.91 750.85,681 752.05,680.91 753.24,680.64 754.44,680.2 755.64,679.6 756.84,678.85 758.04,677.97 759.23,676.99 760.43,675.92 761.63,674.8 762.83,673.65 764.02,672.5 765.22,671.38 766.42,670.31 767.62,669.33 768.81,668.45 770.01,667.7 771.21,667.1 772.4,666.66 773.6,666.39 774.8,666.3 776,666.39 777.19,666.66 778.39,667.1 779.59,667.7 780.79,668.45 781.98,669.33 783.18,670.31 784.38,671.38 785.58,672.5 786.78,673.65 787.97,674.8 789.17,675.92 790.37,676.99 791.56,677.97 792.76,678.85 793.96,679.6 795.16,680.2 796.36,680.64 797.55,680.91 798.75,681 799.95,680.91 801.14,680.64 802.34,680.2 803.54,679.6 804.74,678.85 805.93,677.97 807.13,676.99 808.33,675.92 809.53,674.8 810.72,673.65 811.92,672.5 813.12,671.38 814.32,670.31 815.51,669.33 816.71,668.45 817.91,667.7 819.11,667.1 820.3,666.66 821.5,666.39 822.7,666.3 823.9,666.39 825.1,666.66 826.29,667.1 827.49,667.7 828.69,668.45 829.88,669.33 831.08,670.31 832.28,671.38 833.48,672.5 834.67,673.65 835.87,674.8 837.07,675.92 838.27,676.99 839.46,677.97 840.66,678.85 841.86,679.6 843.06,680.2 844.25,680.64 845.45,680.91 846.65,681 847.85,680.91 849.05,680.64 850.24,680.2 851.44,679.6 852.64,678.85 853.84,677.97 855.03,676.99 856.23,675.92 857.43,674.8 858.62,673.65 859.82,672.5 861.02,671.38 862.22,670.31 863.41,669.33 864.61,668.45 865.81,667.7 867.01,667.1 868.2,666.66 869.4,666.39 870.6,666.3 871.8,666.39 872.99,666.66 874.19,667.1 875.39,667.7 876.59,668.45 877.79,669.33 878.98,670.31 880.18,671.38 881.38,672.5 882.58,673.65 883.77,674.8 884.97,675.92 886.17,676.99 887.37,677.97 888.56,678.85 889.76,679.6 890.96,680.2 892.15,680.64 893.35,680.91 894.55,681 895.75,680.91 896.94,680.64 898.14,680.2 899.34,679.6 900.54,678.85 901.73,677.97 902.93,676.99 904.13,675.92 905.33,674.8 906.53,673.65 907.72,672.5 908.92,671.38 910.12,670.31 911.31,669.33 912.51,668.45 913.71,667.7 914.91,667.1 916.11,666.66 917.3,666.39 918.5,666.3 919.7,666.39 920.89,666.66 922.09,667.1 923.29,667.7 924.49,668.45 925.68,669.33 926.88,670.31 928.08,671.38 929.28,672.5 930.47,673.65 931.67,674.8 932.87,675.92 934.07,676.99 935.26,677.97 936.46,678.85 937.66,679.6 938.86,680.2 940.05,680.64 941.25,680.91 942.45,681 943.65,680.91 944.85,680.64 946.04,680.2 947.24,679.6 948.44,678.85 949.63,677.97 950.83,676.99 952.03,675.92 953.23,674.8 954.42,673.65 955.62,672.5 956.82,671.38 958.02,670.31 959.21,669.33 960.41,668.45 961.61,667.7 962.81,667.1 964,666.66 965.2,666.39 966.4,666.3 967.6,666.39 968.8,666.66 969.99,667.1 971.19,667.7 972.39,668.45 973.59,669.33 974.78,670.31 975.98,671.38 977.18,672.5 978.38,673.65 979.57,674.8 980.77,675.92 981.97,676.99 983.16,677.97 984.36,678.85 985.56,679.6 986.76,680.2 987.95,680.64 989.15,680.91 990.35,681 991.55,680.91 992.74,680.64 993.94,680.2 995.14,679.6 996.34,678.85 997.54,677.97 998.73,676.99 999.93,675.92 1001.13,674.8 1002.32,673.65 1003.52,672.5 1004.72,671.38 1005.92,670.31 1007.12,669.33 1008.31,668.45 1009.51,667.7 1010.71,667.1 1011.9,666.66 1013.1,666.39 1014.3,666.3 1015.5,666.39 1016.69,666.66 1017.89,667.1 1019.09,667.7 1020.29,668.45 1021.48,669.33 1022.68,670.31 1023.88,671.38 1025.08,672.5 1026.27,673.65 1027.47,674.8 1028.67,675.92 1029.87,676.99 1031.06,677.97 1032.26,678.85 1033.46,679.6 1034.66,680.2 1035.86,680.64 1037.05,680.91 1038.25,681 1039.45,680.91 1040.64,680.64 1041.84,680.2 1043.04,679.6 1044.24,678.85 1045.43,677.97 1046.63,676.99 1047.83,675.92 1049.03,674.8 1050.22,673.65 1051.42,672.5 1052.62,671.38 1053.82,670.31 1055.01,669.33 1056.21,668.45 1057.41,667.7 1058.61,667.1 1059.8,666.66 1061,666.39 1062.2,666.3 1063.4,666.39 1064.6,666.66 1065.79,667.1 1066.99,667.7 1068.19,668.45 1069.38,669.33 1070.58,670.31 1071.78,671.38 1072.98,672.5 1074.17,673.65 1075.37,674.8 1076.57,675.92 1077.77,676.99 1078.96,677.97 1080.16,678.85 1081.36,679.6 1082.56,680.2 1083.75,680.64 1084.95,680.91 1086.15,681 1087.35,680.91 1088.55,680.64 1089.74,680.2 1090.94,679.6 1092.14,678.85 1093.34,677.97 1094.53,676.99 1095.73,675.92 1096.93,674.8 1098.12,673.65 1099.32,672.5 1100.52,671.38 1101.72,670.31 1102.91,669.33 1104.11,668.45 1105.31,667.7 1106.51,667.1 1107.7,666.66 1108.9,666.39 1110.1,666.3 1111.3,666.39 1112.49,666.66 1113.69,667.1 1114.89,667.7 1116.09,668.45 1117.29,669.33 1118.48,670.31 1119.68,671.38 1120.88,672.5 1122.07,673.65 1123.27,674.8 1124.47,675.92 1125.67,676.99 1126.87,677.97 1128.06,678.85 1129.26,679.6 1130.46,680.2 1131.65,680.64 1132.85,680.91 1134.05,681 1135.25,680.91 1136.44,680.64 1137.64,680.2 1138.84,679.6 1140.04,678.85 1141.23,677.97 1142.43,676.99 1143.63,675.92 1144.83,674.8 1146.02,673.65 1147.22,672.5 1148.42,671.38 1149.62,670.31 1150.81,669.33 1152.01,668.45 1153.21,667.7 1154.41,667.1 1155.61,666.66 1156.8,666.39 1158,666.3 1159.2,666.39 1160.39,666.66 1161.59,667.1 1162.79,667.7 1163.99,668.45 1165.18,669.33 1166.38,670.31 1167.58,671.38 1168.78,672.5 1169.97,673.65 1171.17,674.8 1172.37,675.92 1173.57,676.99 1174.76,677.97 1175.96,678.85 1177.16,679.6 1178.36,680.2 1179.55,680.64 1180.75,680.91 1181.95,681 1183.15,680.91 1184.35,680.64 1185.54,680.2 1186.74,679.6 1187.94,678.85 1189.13,677.97 1190.33,676.99 1191.53,675.92 1192.73,674.8 1193.92,673.65 1195.12,672.5 1196.32,671.38 1197.52,670.31 1198.71,669.33 1199.91,668.45 1201.11,667.7 1202.31,667.1 1203.5,666.66 1204.7,666.39 1205.9,666.3 1207.1,666.39 1208.29,666.66 1209.49,667.1 1210.69,667.7 1211.89,668.45 1213.09,669.33 1214.28,670.31 1215.48,671.38 1216.68,672.5 1217.87,673.65 1219.07,674.8 1220.27,675.92 1221.47,676.99 1222.66,677.97 1223.86,678.85 1225.06,679.6 1226.26,680.2 1227.45,680.64 1228.65,680.91 1229.85,681 1231.05,680.91 1232.24,680.64 1233.44,680.2 1234.64,679.6 1235.84,678.85 1237.03,677.97 1238.23,676.99 1239.43,675.92 1240.63,674.8 1241.82,673.65 1243.02,672.5 1244.22,671.38 1245.42,670.31 1246.61,669.33 1247.81,668.45 1249.01,667.7 1250.21,667.1 1251.4,666.66 1252.6,666.39 1253.8,666.3 1255,666.39 1256.19,666.66 1257.39,667.1 1258.59,667.7 1259.79,668.45 1260.98,669.33 1262.18,670.31 1263.38,671.38 1264.58,672.5 1265.77,673.65 1266.97,674.8 1268.17,675.92 1269.37,676.99 1270.56,677.97 1271.76,678.85 1272.96,679.6 1274.16,680.2 1275.35,680.64 1276.55,680.91 1277.75,681 1278.95,680.91 1280.14,680.64 1281.34,680.2 1282.54,679.6 1283.74,678.85 1284.93,677.97 1286.13,676.99 1287.33,675.92 1288.53,674.8 1289.72,673.65 1290.92,672.5 1292.12,671.38 1293.32,670.31 1294.51,669.33 1295.71,668.45 1296.91,667.7 1298.11,667.1 1299.3,666.66 1300.5,666.39 1301.7,666.3 1302.9,666.39 1304.09,666.66 1305.29,667.1 1306.49,667.7 1307.69,668.45 1308.88,669.33 1310.08,670.31 1311.28,671.38 1312.48,672.5 1313.67,673.65 1314.87,674.8 1316.07,675.92 1317.27,676.99 1318.46,677.97 1319.66,678.85 1320.86,679.6 1322.06,680.2 1323.25,680.64 1324.45,680.91 1325.65,681 Q1329.05,681 1329.85,677 L1330.8,669.5 Q1331.6,665.4 1335,665.4 L1385,665.4" fill="none" stroke="#121212" stroke-width="2.7" stroke-linejoin="round"/>
<g transform="translate(74.7,665.8) scale(0.64)">
<rect x="0" y="-7.2" width="13.5" height="14.4" rx="1.5" fill="#8e8e8e"/>
<rect x="0.5" y="-7.2" width="12.5" height="2" fill="#b9b9b9"/>
<rect x="0.5" y="5.2" width="12.5" height="2" fill="#b0b0b0"/>
<path d="M12.9,-8.5 Q12.9,-9.5 14,-9.5 L46,-9.5 Q47,-9.5 47.8,-8.8 C51,-6.5 55,-5.5 65.7,-5.3 L65.7,5.3 C55,5.5 51,6.5 47.8,8.8 Q47,9.5 46,9.5 L14,9.5 Q12.9,9.5 12.9,8.5 Z" fill="#2c2c2c"/>
<rect x="65.2" y="-5.8" width="4.7" height="11.6" rx="1.8" fill="#262626"/>
<rect x="13.6" y="-7.6" width="33.6" height="1.8" fill="#8a8a8a"/>
<rect x="13.6" y="5.4" width="33.6" height="1.8" fill="#8a8a8a"/>
<text transform="translate(29.4,0) rotate(180)" x="0" y="2.9" text-anchor="middle" font-family="Liberation Sans" font-weight="bold" font-size="7.8" fill="#f2f2f2" textLength="27.6" lengthAdjust="spacingAndGlyphs">ACVEE</text>
</g>
<g transform="translate(1426.3,666.1) scale(0.56)">
<rect x="-23.6" y="-10.95" width="23.6" height="21.9" fill="#9c9c9c"/>
<rect x="-23.6" y="-10.95" width="23.6" height="1.6" fill="#b4b4b4"/>
<rect x="-13.4" y="-7.9" width="3.8" height="3.4" fill="#3a3a3a"/>
<rect x="-13.4" y="3.9" width="3.8" height="4.2" fill="#3a3a3a"/>
<path d="M-23.4,-13.65 L-50.5,-13.65 Q-51.6,-13.65 -52.3,-12.6 C-55,-8.6 -60,-6.3 -70.8,-6.2 L-70.8,6.2 C-60,6.3 -55,8.6 -52.3,12.6 Q-51.6,13.65 -50.5,13.65 L-23.4,13.65 Z" fill="#2c2c2c"/>
<rect x="-75" y="-6.3" width="4.8" height="12.6" rx="1.8" fill="#262626"/>
<rect x="-50" y="-11" width="26.6" height="1.8" fill="#808080"/>
<rect x="-50" y="9.8" width="26.6" height="1.8" fill="#808080"/>
<g fill="#f4f4f4" stroke="#f4f4f4" transform="translate(-37.8,0) scale(0.88) translate(37.8,0)">
<circle cx="-44.4" cy="0" r="2.3" stroke="none"/>
<path d="M-44,0 L-27.5,0 M-40,0 L-36.8,-3.2 L-32.5,-3.2 M-38.5,0 L-35.3,3.2 L-31.5,3.2" stroke-width="1.5" fill="none"/>
<circle cx="-32" cy="-3.2" r="1.5" stroke="none"/>
<circle cx="-31" cy="3.2" r="1.5" stroke="none"/>
<circle cx="-27" cy="0" r="1.5" stroke="none"/>
</g>
</g></g>
<g transform="translate(5.3,640.6)">
<g filter="url(#sh)"><path d="M524,284.6 L626,284.6 Q633,284.6 635.5,292 L641.5,314 Q643.5,320.5 646,320.5" fill="none" stroke="#121212" stroke-width="6" stroke-linecap="round"/>
<path d="M848.1,285.1 A3.5,3.5 0 0 1 855.1,285.1 C855.5,290.6 858.1,293.2 858.1,302.2 C858.1,311.2 859.9,313.8 859.5,319.3 A3.5,3.5 0 0 1 852.5,319.3 C852.1,313.8 849.5,311.2 849.5,302.2 C849.5,293.2 847.7,290.6 848.1,285.1 Z" fill="#161616" stroke="#080808" stroke-width="0.9"/>
<path d="M645.7,285.1 A3.5,3.5 0 0 1 652.7,285.1 C653.1,290.6 651.3,293.2 651.3,302.2 C651.3,311.2 648.7,313.8 648.3,319.3 A3.5,3.5 0 0 1 641.3,319.3 C640.9,313.8 642.7,311.2 642.7,302.2 C642.7,293.2 645.3,290.6 645.7,285.1 Z" fill="url(#pg)" stroke="#080808" stroke-width="0.9"/>
<path d="M654.5,285.1 A3.5,3.5 0 0 1 661.5,285.1 C661.9,290.6 660.1,293.2 660.1,302.2 C660.1,311.2 657.5,313.8 657.1,319.3 A3.5,3.5 0 0 1 650.1,319.3 C649.7,313.8 651.5,311.2 651.5,302.2 C651.5,293.2 654.1,290.6 654.5,285.1 Z" fill="url(#pg)" stroke="#080808" stroke-width="0.9"/>
<path d="M663.3,285.1 A3.5,3.5 0 0 1 670.3,285.1 C670.7,290.6 668.9,293.2 668.9,302.2 C668.9,311.2 666.3,313.8 665.9,319.3 A3.5,3.5 0 0 1 658.9,319.3 C658.5,313.8 660.3,311.2 660.3,302.2 C660.3,293.2 662.9,290.6 663.3,285.1 Z" fill="url(#pg)" stroke="#080808" stroke-width="0.9"/>
<path d="M672.1,285.1 A3.5,3.5 0 0 1 679.1,285.1 C679.5,290.6 677.7,293.2 677.7,302.2 C677.7,311.2 675.1,313.8 674.7,319.3 A3.5,3.5 0 0 1 667.7,319.3 C667.3,313.8 669.1,311.2 669.1,302.2 C669.1,293.2 671.7,290.6 672.1,285.1 Z" fill="url(#pg)" stroke="#080808" stroke-width="0.9"/>
<path d="M680.9,285.1 A3.5,3.5 0 0 1 687.9,285.1 C688.3,290.6 686.5,293.2 686.5,302.2 C686.5,311.2 683.9,313.8 683.5,319.3 A3.5,3.5 0 0 1 676.5,319.3 C676.1,313.8 677.9,311.2 677.9,302.2 C677.9,293.2 680.5,290.6 680.9,285.1 Z" fill="url(#pg)" stroke="#080808" stroke-width="0.9"/>
<path d="M689.7,285.1 A3.5,3.5 0 0 1 696.7,285.1 C697.1,290.6 695.3,293.2 695.3,302.2 C695.3,311.2 692.7,313.8 692.3,319.3 A3.5,3.5 0 0 1 685.3,319.3 C684.9,313.8 686.7,311.2 686.7,302.2 C686.7,293.2 689.3,290.6 689.7,285.1 Z" fill="url(#pg)" stroke="#080808" stroke-width="0.9"/>
<path d="M698.5,285.1 A3.5,3.5 0 0 1 705.5,285.1 C705.9,290.6 704.1,293.2 704.1,302.2 C704.1,311.2 701.5,313.8 701.1,319.3 A3.5,3.5 0 0 1 694.1,319.3 C693.7,313.8 695.5,311.2 695.5,302.2 C695.5,293.2 698.1,290.6 698.5,285.1 Z" fill="url(#pg)" stroke="#080808" stroke-width="0.9"/>
<path d="M707.3,285.1 A3.5,3.5 0 0 1 714.3,285.1 C714.7,290.6 712.9,293.2 712.9,302.2 C712.9,311.2 710.3,313.8 709.9,319.3 A3.5,3.5 0 0 1 702.9,319.3 C702.5,313.8 704.3,311.2 704.3,302.2 C704.3,293.2 706.9,290.6 707.3,285.1 Z" fill="url(#pg)" stroke="#080808" stroke-width="0.9"/>
<path d="M716.1,285.1 A3.5,3.5 0 0 1 723.1,285.1 C723.5,290.6 721.7,293.2 721.7,302.2 C721.7,311.2 719.1,313.8 718.7,319.3 A3.5,3.5 0 0 1 711.7,319.3 C711.3,313.8 713.1,311.2 713.1,302.2 C713.1,293.2 715.7,290.6 716.1,285.1 Z" fill="url(#pg)" stroke="#080808" stroke-width="0.9"/>
<path d="M724.9,285.1 A3.5,3.5 0 0 1 731.9,285.1 C732.3,290.6 730.5,293.2 730.5,302.2 C730.5,311.2 727.9,313.8 727.5,319.3 A3.5,3.5 0 0 1 720.5,319.3 C720.1,313.8 721.9,311.2 721.9,302.2 C721.9,293.2 724.5,290.6 724.9,285.1 Z" fill="url(#pg)" stroke="#080808" stroke-width="0.9"/>
<path d="M733.7,285.1 A3.5,3.5 0 0 1 740.7,285.1 C741.1,290.6 739.3,293.2 739.3,302.2 C739.3,311.2 736.7,313.8 736.3,319.3 A3.5,3.5 0 0 1 729.3,319.3 C728.9,313.8 730.7,311.2 730.7,302.2 C730.7,293.2 733.3,290.6 733.7,285.1 Z" fill="url(#pg)" stroke="#080808" stroke-width="0.9"/>
<path d="M742.5,285.1 A3.5,3.5 0 0 1 749.5,285.1 C749.9,290.6 748.1,293.2 748.1,302.2 C748.1,311.2 745.5,313.8 745.1,319.3 A3.5,3.5 0 0 1 738.1,319.3 C737.7,313.8 739.5,311.2 739.5,302.2 C739.5,293.2 742.1,290.6 742.5,285.1 Z" fill="url(#pg)" stroke="#080808" stroke-width="0.9"/>
<path d="M751.3,285.1 A3.5,3.5 0 0 1 758.3,285.1 C758.7,290.6 756.9,293.2 756.9,302.2 C756.9,311.2 754.3,313.8 753.9,319.3 A3.5,3.5 0 0 1 746.9,319.3 C746.5,313.8 748.3,311.2 748.3,302.2 C748.3,293.2 750.9,290.6 751.3,285.1 Z" fill="url(#pg)" stroke="#080808" stroke-width="0.9"/>
<path d="M760.1,285.1 A3.5,3.5 0 0 1 767.1,285.1 C767.5,290.6 765.7,293.2 765.7,302.2 C765.7,311.2 763.1,313.8 762.7,319.3 A3.5,3.5 0 0 1 755.7,319.3 C755.3,313.8 757.1,311.2 757.1,302.2 C757.1,293.2 759.7,290.6 760.1,285.1 Z" fill="url(#pg)" stroke="#080808" stroke-width="0.9"/>
<path d="M768.9,285.1 A3.5,3.5 0 0 1 775.9,285.1 C776.3,290.6 774.5,293.2 774.5,302.2 C774.5,311.2 771.9,313.8 771.5,319.3 A3.5,3.5 0 0 1 764.5,319.3 C764.1,313.8 765.9,311.2 765.9,302.2 C765.9,293.2 768.5,290.6 768.9,285.1 Z" fill="url(#pg)" stroke="#080808" stroke-width="0.9"/>
<path d="M777.7,285.1 A3.5,3.5 0 0 1 784.7,285.1 C785.1,290.6 783.3,293.2 783.3,302.2 C783.3,311.2 780.7,313.8 780.3,319.3 A3.5,3.5 0 0 1 773.3,319.3 C772.9,313.8 774.7,311.2 774.7,302.2 C774.7,293.2 777.3,290.6 777.7,285.1 Z" fill="url(#pg)" stroke="#080808" stroke-width="0.9"/>
<path d="M786.5,285.1 A3.5,3.5 0 0 1 793.5,285.1 C793.9,290.6 792.1,293.2 792.1,302.2 C792.1,311.2 789.5,313.8 789.1,319.3 A3.5,3.5 0 0 1 782.1,319.3 C781.7,313.8 783.5,311.2 783.5,302.2 C783.5,293.2 786.1,290.6 786.5,285.1 Z" fill="url(#pg)" stroke="#080808" stroke-width="0.9"/>
<path d="M795.3,285.1 A3.5,3.5 0 0 1 802.3,285.1 C802.7,290.6 800.9,293.2 800.9,302.2 C800.9,311.2 798.3,313.8 797.9,319.3 A3.5,3.5 0 0 1 790.9,319.3 C790.5,313.8 792.3,311.2 792.3,302.2 C792.3,293.2 794.9,290.6 795.3,285.1 Z" fill="url(#pg)" stroke="#080808" stroke-width="0.9"/>
<path d="M804.1,285.1 A3.5,3.5 0 0 1 811.1,285.1 C811.5,290.6 809.7,293.2 809.7,302.2 C809.7,311.2 807.1,313.8 806.7,319.3 A3.5,3.5 0 0 1 799.7,319.3 C799.3,313.8 801.1,311.2 801.1,302.2 C801.1,293.2 803.7,290.6 804.1,285.1 Z" fill="url(#pg)" stroke="#080808" stroke-width="0.9"/>
<path d="M812.9,285.1 A3.5,3.5 0 0 1 819.9,285.1 C820.3,290.6 818.5,293.2 818.5,302.2 C818.5,311.2 815.9,313.8 815.5,319.3 A3.5,3.5 0 0 1 808.5,319.3 C808.1,313.8 809.9,311.2 809.9,302.2 C809.9,293.2 812.5,290.6 812.9,285.1 Z" fill="url(#pg)" stroke="#080808" stroke-width="0.9"/>
<path d="M821.7,285.1 A3.5,3.5 0 0 1 828.7,285.1 C829.1,290.6 827.3,293.2 827.3,302.2 C827.3,311.2 824.7,313.8 824.3,319.3 A3.5,3.5 0 0 1 817.3,319.3 C816.9,313.8 818.7,311.2 818.7,302.2 C818.7,293.2 821.3,290.6 821.7,285.1 Z" fill="url(#pg)" stroke="#080808" stroke-width="0.9"/>
<path d="M830.5,285.1 A3.5,3.5 0 0 1 837.5,285.1 C837.9,290.6 836.1,293.2 836.1,302.2 C836.1,311.2 833.5,313.8 833.1,319.3 A3.5,3.5 0 0 1 826.1,319.3 C825.7,313.8 827.5,311.2 827.5,302.2 C827.5,293.2 830.1,290.6 830.5,285.1 Z" fill="url(#pg)" stroke="#080808" stroke-width="0.9"/>
<path d="M839.3,285.1 A3.5,3.5 0 0 1 846.3,285.1 C846.7,290.6 844.9,293.2 844.9,302.2 C844.9,311.2 842.3,313.8 841.9,319.3 A3.5,3.5 0 0 1 834.9,319.3 C834.5,313.8 836.3,311.2 836.3,302.2 C836.3,293.2 838.9,290.6 839.3,285.1 Z" fill="url(#pg)" stroke="#080808" stroke-width="0.9"/>
<path d="M848.1,285.1 A3.5,3.5 0 0 1 855.1,285.1 C855.5,290.6 853.7,293.2 853.7,302.2 C853.7,311.2 851.1,313.8 850.7,319.3 A3.5,3.5 0 0 1 843.7,319.3 C843.3,313.8 845.1,311.2 845.1,302.2 C845.1,293.2 847.7,290.6 848.1,285.1 Z" fill="url(#pg)" stroke="#080808" stroke-width="0.9"/>
<path d="M649.6,285 L649.3,287.6" stroke="#5c5c5c" stroke-width="2" stroke-linecap="round" opacity="0.6"/>
<path d="M647.8,303.2 L646.8,312.2" stroke="#525252" stroke-width="2.2" stroke-linecap="round" opacity="0.5"/>
<path d="M642.6,320.6 A3,3 0 0 0 647,320.6" fill="none" stroke="#505050" stroke-width="1" opacity="0.6"/>
<path d="M658.4,285 L658.1,287.6" stroke="#5c5c5c" stroke-width="2" stroke-linecap="round" opacity="0.6"/>
<path d="M656.6,303.2 L655.6,312.2" stroke="#525252" stroke-width="2.2" stroke-linecap="round" opacity="0.5"/>
<path d="M651.4,320.6 A3,3 0 0 0 655.8,320.6" fill="none" stroke="#505050" stroke-width="1" opacity="0.6"/>
<path d="M667.2,285 L666.9,287.6" stroke="#5c5c5c" stroke-width="2" stroke-linecap="round" opacity="0.6"/>
<path d="M665.4,303.2 L664.4,312.2" stroke="#525252" stroke-width="2.2" stroke-linecap="round" opacity="0.5"/>
<path d="M660.2,320.6 A3,3 0 0 0 664.6,320.6" fill="none" stroke="#505050" stroke-width="1" opacity="0.6"/>
<path d="M676,285 L675.7,287.6" stroke="#5c5c5c" stroke-width="2" stroke-linecap="round" opacity="0.6"/>
<path d="M674.2,303.2 L673.2,312.2" stroke="#525252" stroke-width="2.2" stroke-linecap="round" opacity="0.5"/>
<path d="M669,320.6 A3,3 0 0 0 673.4,320.6" fill="none" stroke="#505050" stroke-width="1" opacity="0.6"/>
<path d="M684.8,285 L684.5,287.6" stroke="#5c5c5c" stroke-width="2" stroke-linecap="round" opacity="0.6"/>
<path d="M683,303.2 L682,312.2" stroke="#525252" stroke-width="2.2" stroke-linecap="round" opacity="0.5"/>
<path d="M677.8,320.6 A3,3 0 0 0 682.2,320.6" fill="none" stroke="#505050" stroke-width="1" opacity="0.6"/>
<path d="M693.6,285 L693.3,287.6" stroke="#5c5c5c" stroke-width="2" stroke-linecap="round" opacity="0.6"/>
<path d="M691.8,303.2 L690.8,312.2" stroke="#525252" stroke-width="2.2" stroke-linecap="round" opacity="0.5"/>
<path d="M686.6,320.6 A3,3 0 0 0 691,320.6" fill="none" stroke="#505050" stroke-width="1" opacity="0.6"/>
<path d="M702.4,285 L702.1,287.6" stroke="#5c5c5c" stroke-width="2" stroke-linecap="round" opacity="0.6"/>
<path d="M700.6,303.2 L699.6,312.2" stroke="#525252" stroke-width="2.2" stroke-linecap="round" opacity="0.5"/>
<path d="M695.4,320.6 A3,3 0 0 0 699.8,320.6" fill="none" stroke="#505050" stroke-width="1" opacity="0.6"/>
<path d="M711.2,285 L710.9,287.6" stroke="#5c5c5c" stroke-width="2" stroke-linecap="round" opacity="0.6"/>
<path d="M709.4,303.2 L708.4,312.2" stroke="#525252" stroke-width="2.2" stroke-linecap="round" opacity="0.5"/>
<path d="M704.2,320.6 A3,3 0 0 0 708.6,320.6" fill="none" stroke="#505050" stroke-width="1" opacity="0.6"/>
<path d="M720,285 L719.7,287.6" stroke="#5c5c5c" stroke-width="2" stroke-linecap="round" opacity="0.6"/>
<path d="M718.2,303.2 L717.2,312.2" stroke="#525252" stroke-width="2.2" stroke-linecap="round" opacity="0.5"/>
<path d="M713,320.6 A3,3 0 0 0 717.4,320.6" fill="none" stroke="#505050" stroke-width="1" opacity="0.6"/>
<path d="M728.8,285 L728.5,287.6" stroke="#5c5c5c" stroke-width="2" stroke-linecap="round" opacity="0.6"/>
<path d="M727,303.2 L726,312.2" stroke="#525252" stroke-width="2.2" stroke-linecap="round" opacity="0.5"/>
<path d="M721.8,320.6 A3,3 0 0 0 726.2,320.6" fill="none" stroke="#505050" stroke-width="1" opacity="0.6"/>
<path d="M737.6,285 L737.3,287.6" stroke="#5c5c5c" stroke-width="2" stroke-linecap="round" opacity="0.6"/>
<path d="M735.8,303.2 L734.8,312.2" stroke="#525252" stroke-width="2.2" stroke-linecap="round" opacity="0.5"/>
<path d="M730.6,320.6 A3,3 0 0 0 735,320.6" fill="none" stroke="#505050" stroke-width="1" opacity="0.6"/>
<path d="M746.4,285 L746.1,287.6" stroke="#5c5c5c" stroke-width="2" stroke-linecap="round" opacity="0.6"/>
<path d="M744.6,303.2 L743.6,312.2" stroke="#525252" stroke-width="2.2" stroke-linecap="round" opacity="0.5"/>
<path d="M739.4,320.6 A3,3 0 0 0 743.8,320.6" fill="none" stroke="#505050" stroke-width="1" opacity="0.6"/>
<path d="M755.2,285 L754.9,287.6" stroke="#5c5c5c" stroke-width="2" stroke-linecap="round" opacity="0.6"/>
<path d="M753.4,303.2 L752.4,312.2" stroke="#525252" stroke-width="2.2" stroke-linecap="round" opacity="0.5"/>
<path d="M748.2,320.6 A3,3 0 0 0 752.6,320.6" fill="none" stroke="#505050" stroke-width="1" opacity="0.6"/>
<path d="M764,285 L763.7,287.6" stroke="#5c5c5c" stroke-width="2" stroke-linecap="round" opacity="0.6"/>
<path d="M762.2,303.2 L761.2,312.2" stroke="#525252" stroke-width="2.2" stroke-linecap="round" opacity="0.5"/>
<path d="M757,320.6 A3,3 0 0 0 761.4,320.6" fill="none" stroke="#505050" stroke-width="1" opacity="0.6"/>
<path d="M772.8,285 L772.5,287.6" stroke="#5c5c5c" stroke-width="2" stroke-linecap="round" opacity="0.6"/>
<path d="M771,303.2 L770,312.2" stroke="#525252" stroke-width="2.2" stroke-linecap="round" opacity="0.5"/>
<path d="M765.8,320.6 A3,3 0 0 0 770.2,320.6" fill="none" stroke="#505050" stroke-width="1" opacity="0.6"/>
<path d="M781.6,285 L781.3,287.6" stroke="#5c5c5c" stroke-width="2" stroke-linecap="round" opacity="0.6"/>
<path d="M779.8,303.2 L778.8,312.2" stroke="#525252" stroke-width="2.2" stroke-linecap="round" opacity="0.5"/>
<path d="M774.6,320.6 A3,3 0 0 0 779,320.6" fill="none" stroke="#505050" stroke-width="1" opacity="0.6"/>
<path d="M790.4,285 L790.1,287.6" stroke="#5c5c5c" stroke-width="2" stroke-linecap="round" opacity="0.6"/>
<path d="M788.6,303.2 L787.6,312.2" stroke="#525252" stroke-width="2.2" stroke-linecap="round" opacity="0.5"/>
<path d="M783.4,320.6 A3,3 0 0 0 787.8,320.6" fill="none" stroke="#505050" stroke-width="1" opacity="0.6"/>
<path d="M799.2,285 L798.9,287.6" stroke="#5c5c5c" stroke-width="2" stroke-linecap="round" opacity="0.6"/>
<path d="M797.4,303.2 L796.4,312.2" stroke="#525252" stroke-width="2.2" stroke-linecap="round" opacity="0.5"/>
<path d="M792.2,320.6 A3,3 0 0 0 796.6,320.6" fill="none" stroke="#505050" stroke-width="1" opacity="0.6"/>
<path d="M808,285 L807.7,287.6" stroke="#5c5c5c" stroke-width="2" stroke-linecap="round" opacity="0.6"/>
<path d="M806.2,303.2 L805.2,312.2" stroke="#525252" stroke-width="2.2" stroke-linecap="round" opacity="0.5"/>
<path d="M801,320.6 A3,3 0 0 0 805.4,320.6" fill="none" stroke="#505050" stroke-width="1" opacity="0.6"/>
<path d="M816.8,285 L816.5,287.6" stroke="#5c5c5c" stroke-width="2" stroke-linecap="round" opacity="0.6"/>
<path d="M815,303.2 L814,312.2" stroke="#525252" stroke-width="2.2" stroke-linecap="round" opacity="0.5"/>
<path d="M809.8,320.6 A3,3 0 0 0 814.2,320.6" fill="none" stroke="#505050" stroke-width="1" opacity="0.6"/>
<path d="M825.6,285 L825.3,287.6" stroke="#5c5c5c" stroke-width="2" stroke-linecap="round" opacity="0.6"/>
<path d="M823.8,303.2 L822.8,312.2" stroke="#525252" stroke-width="2.2" stroke-linecap="round" opacity="0.5"/>
<path d="M818.6,320.6 A3,3 0 0 0 823,320.6" fill="none" stroke="#505050" stroke-width="1" opacity="0.6"/>
<path d="M834.4,285 L834.1,287.6" stroke="#5c5c5c" stroke-width="2" stroke-linecap="round" opacity="0.6"/>
<path d="M832.6,303.2 L831.6,312.2" stroke="#525252" stroke-width="2.2" stroke-linecap="round" opacity="0.5"/>
<path d="M827.4,320.6 A3,3 0 0 0 831.8,320.6" fill="none" stroke="#505050" stroke-width="1" opacity="0.6"/>
<path d="M843.2,285 L842.9,287.6" stroke="#5c5c5c" stroke-width="2" stroke-linecap="round" opacity="0.6"/>
<path d="M841.4,303.2 L840.4,312.2" stroke="#525252" stroke-width="2.2" stroke-linecap="round" opacity="0.5"/>
<path d="M836.2,320.6 A3,3 0 0 0 840.6,320.6" fill="none" stroke="#505050" stroke-width="1" opacity="0.6"/>
<path d="M852,285 L851.7,287.6" stroke="#5c5c5c" stroke-width="2" stroke-linecap="round" opacity="0.6"/>
<path d="M850.2,303.2 L849.2,312.2" stroke="#525252" stroke-width="2.2" stroke-linecap="round" opacity="0.5"/>
<path d="M845,320.6 A3,3 0 0 0 849.4,320.6" fill="none" stroke="#505050" stroke-width="1" opacity="0.6"/>
<path d="M855,320.5 Q857.5,320.5 859.5,314 L865.5,291 Q867.5,284.6 874,284.6 L990,284.6" fill="none" stroke="#121212" stroke-width="6" stroke-linecap="round"/>
<g transform="translate(454.3,284.4) scale(1.0)">
<rect x="0" y="-7.2" width="13.5" height="14.4" rx="1.5" fill="#8e8e8e"/>
<rect x="0.5" y="-7.2" width="12.5" height="2" fill="#b9b9b9"/>
<rect x="0.5" y="5.2" width="12.5" height="2" fill="#b0b0b0"/>
<path d="M12.9,-8.5 Q12.9,-9.5 14,-9.5 L46,-9.5 Q47,-9.5 47.8,-8.8 C51,-6.5 55,-5.5 65.7,-5.3 L65.7,5.3 C55,5.5 51,6.5 47.8,8.8 Q47,9.5 46,9.5 L14,9.5 Q12.9,9.5 12.9,8.5 Z" fill="#2c2c2c"/>
<rect x="65.2" y="-5.8" width="4.7" height="11.6" rx="1.8" fill="#262626"/>
<rect x="13.6" y="-7.6" width="33.6" height="1.8" fill="#8a8a8a"/>
<rect x="13.6" y="5.4" width="33.6" height="1.8" fill="#8a8a8a"/>
<text transform="translate(29.4,0) rotate(180)" x="0" y="2.9" text-anchor="middle" font-family="Liberation Sans" font-weight="bold" font-size="7.8" fill="#f2f2f2" textLength="27.6" lengthAdjust="spacingAndGlyphs">ACVEE</text>
</g>
<g transform="translate(1062.8,284.5) scale(1.0)">
<rect x="-23.6" y="-10.95" width="23.6" height="21.9" fill="#9c9c9c"/>
<rect x="-23.6" y="-10.95" width="23.6" height="1.6" fill="#b4b4b4"/>
<rect x="-13.4" y="-7.9" width="3.8" height="3.4" fill="#3a3a3a"/>
<rect x="-13.4" y="3.9" width="3.8" height="4.2" fill="#3a3a3a"/>
<path d="M-23.4,-13.65 L-50.5,-13.65 Q-51.6,-13.65 -52.3,-12.6 C-55,-8.6 -60,-6.3 -70.8,-6.2 L-70.8,6.2 C-60,6.3 -55,8.6 -52.3,12.6 Q-51.6,13.65 -50.5,13.65 L-23.4,13.65 Z" fill="#2c2c2c"/>
<rect x="-75" y="-6.3" width="4.8" height="12.6" rx="1.8" fill="#262626"/>
<rect x="-50" y="-11" width="26.6" height="1.8" fill="#808080"/>
<rect x="-50" y="9.8" width="26.6" height="1.8" fill="#808080"/>
<g fill="#f4f4f4" stroke="#f4f4f4" transform="translate(-37.8,0) scale(0.88) translate(37.8,0)">
<circle cx="-44.4" cy="0" r="2.3" stroke="none"/>
<path d="M-44,0 L-27.5,0 M-40,0 L-36.8,-3.2 L-32.5,-3.2 M-38.5,0 L-35.3,3.2 L-31.5,3.2" stroke-width="1.5" fill="none"/>
<circle cx="-32" cy="-3.2" r="1.5" stroke="none"/>
<circle cx="-31" cy="3.2" r="1.5" stroke="none"/>
<circle cx="-27" cy="0" r="1.5" stroke="none"/>
</g>
</g></g>
<g filter="url(#sh2)"><path d="M323,478.3 L346,478.3 C371,478.5 380.5,491 381.8,507 Q382.6,515.7 383.9,515.7 L 383.9,515.7 384.33,515.5 384.76,514.93 385.19,514.05 385.61,512.94 386.04,511.66 386.47,510.26 386.89,508.78 387.32,507.24 387.75,505.65 388.17,504.03 388.6,502.38 389.03,500.72 389.45,499.05 389.88,497.37 390.31,495.69 390.73,494 391.16,492.32 391.59,490.65 392.01,488.99 392.44,487.34 392.87,485.72 393.29,484.14 393.72,482.59 394.15,481.11 394.57,479.72 395,478.44 395.43,477.33 395.85,476.46 396.28,475.89 396.71,475.7 397.13,475.91 397.56,476.49 397.99,477.37 398.41,478.48 398.84,479.76 399.27,481.16 399.69,482.65 400.12,484.19 400.55,485.78 400.97,487.4 401.4,489.05 401.83,490.71 402.26,492.38 402.68,494.06 403.11,495.74 403.54,497.43 403.96,499.11 404.39,500.78 404.82,502.44 405.24,504.08 405.67,505.7 406.1,507.29 406.52,508.83 406.95,510.31 407.38,511.71 407.8,512.98 408.23,514.08 408.66,514.95 409.08,515.51 409.51,515.7 409.94,515.49 410.36,514.9 410.79,514.01 411.22,512.9 411.64,511.61 412.07,510.21 412.5,508.73 412.92,507.18 413.35,505.59 413.78,503.97 414.2,502.33 414.63,500.66 415.06,498.99 415.48,497.31 415.91,495.63 416.34,493.94 416.76,492.26 417.19,490.59 417.62,488.93 418.04,487.29 418.47,485.67 418.9,484.08 419.32,482.54 419.75,481.06 420.18,479.67 420.61,478.4 421.03,477.3 421.46,476.43 421.89,475.88 422.31,475.7 422.74,475.92 423.17,476.51 423.59,477.4 424.02,478.53 424.45,479.81 424.87,481.21 425.3,482.7 425.73,484.25 426.15,485.84 426.58,487.46 427.01,489.1 427.43,490.76 427.86,492.44 428.29,494.12 428.71,495.8 429.14,497.49 429.57,499.17 429.99,500.84 430.42,502.5 430.85,504.14 431.27,505.76 431.7,507.34 432.13,508.88 432.55,510.36 432.98,511.75 433.41,513.02 433.83,514.12 434.26,514.98 434.69,515.53 435.11,515.7 435.54,515.47 435.97,514.88 436.39,513.98 436.82,512.85 437.25,511.57 437.67,510.16 438.1,508.67 438.53,507.13 438.96,505.54 439.38,503.91 439.81,502.27 440.24,500.61 440.66,498.93 441.09,497.25 441.52,495.57 441.94,493.89 442.37,492.21 442.8,490.53 443.22,488.87 443.65,487.23 444.08,485.61 444.5,484.03 444.93,482.49 445.36,481.01 445.78,479.63 446.21,478.36 446.64,477.27 447.06,476.41 447.49,475.87 447.92,475.7 448.34,475.94 448.77,476.54 449.2,477.44 449.62,478.57 450.05,479.86 450.48,481.26 450.9,482.75 451.33,484.3 451.76,485.89 452.18,487.51 452.61,489.16 453.04,490.82 453.46,492.5 453.89,494.18 454.32,495.86 454.74,497.54 455.17,499.22 455.6,500.89 456.02,502.55 456.45,504.2 456.88,505.81 457.31,507.4 457.73,508.94 458.16,510.41 458.59,511.8 459.01,513.06 459.44,514.15 459.87,515 460.29,515.54 460.72,515.7 461.15,515.46 461.57,514.85 462,513.94 462.43,512.81 462.85,511.52 463.28,510.11 463.71,508.62 464.13,507.07 464.56,505.48 464.99,503.86 465.41,502.21 465.84,500.55 466.27,498.88 466.69,497.2 467.12,495.51 467.55,493.83 467.97,492.15 468.4,490.48 468.83,488.82 469.25,487.18 469.68,485.56 470.11,483.98 470.53,482.44 470.96,480.96 471.39,479.58 471.81,478.32 472.24,477.23 472.67,476.39 473.09,475.86 473.52,475.7 473.95,475.95 474.37,476.56 474.8,477.47 475.23,478.61 475.66,479.9 476.08,481.31 476.51,482.8 476.94,484.35 477.36,485.95 477.79,487.57 478.22,489.22 478.64,490.88 479.07,492.55 479.5,494.23 479.92,495.92 480.35,497.6 480.78,499.28 481.2,500.95 481.63,502.61 482.06,504.25 482.48,505.87 482.91,507.45 483.34,508.99 483.76,510.46 484.19,511.84 484.62,513.1 485.04,514.18 485.47,515.03 485.9,515.55 486.32,515.7 486.75,515.44 487.18,514.82 487.6,513.91 488.03,512.77 488.46,511.47 488.88,510.06 489.31,508.57 489.74,507.02 490.16,505.43 490.59,503.8 491.02,502.16 491.44,500.49 491.87,498.82 492.3,497.14 492.73,495.45 493.15,493.77 493.58,492.09 494.01,490.42 494.43,488.76 494.86,487.12 495.29,485.5 495.71,483.92 496.14,482.39 496.57,480.92 496.99,479.53 497.42,478.28 497.85,477.2 498.27,476.36 498.7,475.84 499.13,475.7 499.55,475.97 499.98,476.59 500.41,477.51 500.83,478.65 501.26,479.95 501.69,481.36 502.11,482.86 502.54,484.41 502.97,486 503.39,487.63 503.82,489.27 504.25,490.94 504.67,492.61 505.1,494.29 505.53,495.98 505.95,497.66 506.38,499.34 506.81,501.01 507.23,502.67 507.66,504.31 508.09,505.92 508.51,507.51 508.94,509.04 509.37,510.51 509.79,511.89 510.22,513.14 510.65,514.22 511.08,515.05 511.5,515.56 511.93,515.69 512.36,515.43 512.78,514.8 513.21,513.87 513.64,512.73 514.06,511.43 514.49,510.01 514.92,508.52 515.34,506.96 515.77,505.37 516.2,503.75 516.62,502.1 517.05,500.43 517.48,498.76 517.9,497.08 518.33,495.4 518.76,493.71 519.18,492.03 519.61,490.36 520.04,488.7 520.46,487.06 520.89,485.45 521.32,483.87 521.74,482.33 522.17,480.87 522.6,479.49 523.02,478.24 523.45,477.17 523.88,476.34 524.3,475.83 524.73,475.71 525.16,475.98 525.58,476.62 526.01,477.55 526.44,478.69 526.86,480 527.29,481.41 527.72,482.91 528.14,484.46 528.57,486.06 529,487.68 529.43,489.33 529.85,490.99 530.28,492.67 530.71,494.35 531.13,496.03 531.56,497.72 531.99,499.4 532.41,501.07 532.84,502.73 533.27,504.36 533.69,505.98 534.12,507.56 534.55,509.09 534.97,510.56 535.4,511.93 535.83,513.18 536.25,514.25 536.68,515.07 537.11,515.57 537.53,515.69 537.96,515.41 538.39,514.77 538.81,513.84 539.24,512.68 539.67,511.38 540.09,509.96 540.52,508.46 540.95,506.91 541.37,505.31 541.8,503.69 542.23,502.04 542.65,500.38 543.08,498.7 543.51,497.02 543.93,495.34 544.36,493.65 544.79,491.97 545.21,490.3 545.64,488.65 546.07,487.01 546.49,485.39 546.92,483.81 547.35,482.28 547.78,480.82 548.2,479.44 548.63,478.2 549.06,477.13 549.48,476.31 549.91,475.82 550.34,475.71 550.76,476 551.19,476.65 551.62,477.58 552.04,478.74 552.47,480.05 552.9,481.46 553.32,482.96 553.75,484.52 554.18,486.11 554.6,487.74 555.03,489.39 555.46,491.05 555.88,492.73 556.31,494.41 556.74,496.09 557.16,497.78 557.59,499.45 558.02,501.12 558.44,502.78 558.87,504.42 559.3,506.03 559.72,507.61 560.15,509.14 560.58,510.61 561,511.98 561.43,513.22 561.86,514.28 562.28,515.1 562.71,515.58 563.14,515.69 563.56,515.39 563.99,514.74 564.42,513.8 564.84,512.64 565.27,511.33 565.7,509.91 566.13,508.41 566.55,506.86 566.98,505.26 567.41,503.63 567.83,501.98 568.26,500.32 568.69,498.64 569.11,496.96 569.54,495.28 569.97,493.6 570.39,491.92 570.82,490.25 571.25,488.59 571.67,486.95 572.1,485.34 572.53,483.76 572.95,482.23 573.38,480.77 573.81,479.4 574.23,478.16 574.66,477.1 575.09,476.29 575.51,475.81 575.94,475.71 576.37,476.01 576.79,476.67 577.22,477.62 577.65,478.78 578.07,480.09 578.5,481.51 578.93,483.01 579.35,484.57 579.78,486.17 580.21,487.8 580.63,489.44 581.06,491.11 581.49,492.78 581.91,494.47 582.34,496.15 582.77,497.83 583.2,499.51 583.62,501.18 584.05,502.84 584.48,504.48 584.9,506.09 585.33,507.67 585.76,509.2 586.18,510.66 586.61,512.03 587.04,513.26 587.46,514.32 587.89,515.12 588.32,515.59 588.74,515.68 589.17,515.38 589.6,514.71 590.02,513.76 590.45,512.6 590.88,511.28 591.3,509.86 591.73,508.36 592.16,506.8 592.58,505.2 593.01,503.58 593.44,501.93 593.86,500.26 594.29,498.59 594.72,496.9 595.14,495.22 595.57,493.54 596,491.86 596.42,490.19 596.85,488.53 597.28,486.89 597.7,485.28 598.13,483.71 598.56,482.18 598.98,480.72 599.41,479.35 599.84,478.12 600.26,477.07 600.69,476.27 601.12,475.8 601.55,475.72 601.97,476.03 602.4,476.7 602.83,477.66 603.25,478.82 603.68,480.14 604.11,481.57 604.53,483.07 604.96,484.63 605.39,486.22 605.81,487.85 606.24,489.5 606.67,491.17 607.09,492.84 607.52,494.52 607.95,496.21 608.37,497.89 608.8,499.57 609.23,501.24 609.65,502.9 610.08,504.53 610.51,506.14 610.93,507.72 611.36,509.25 611.79,510.71 612.21,512.07 612.64,513.3 613.07,514.35 613.49,515.14 613.92,515.6 614.35,515.68 614.77,515.36 615.2,514.68 615.63,513.72 616.05,512.56 616.48,511.24 616.91,509.81 617.33,508.31 617.76,506.75 618.19,505.15 618.61,503.52 619.04,501.87 619.47,500.2 619.9,498.53 620.32,496.85 620.75,495.16 621.18,493.48 621.6,491.8 622.03,490.13 622.46,488.48 622.88,486.84 623.31,485.23 623.74,483.65 624.16,482.13 624.59,480.67 625.02,479.31 625.44,478.08 625.87,477.03 626.3,476.25 626.72,475.79 627.15,475.72 627.58,476.05 628,476.73 628.43,477.69 628.86,478.87 629.28,480.19 629.71,481.62 630.14,483.12 630.56,484.68 630.99,486.28 631.42,487.91 631.84,489.56 632.27,491.22 632.7,492.9 633.12,494.58 633.55,496.27 633.98,497.95 634.4,499.63 634.83,501.3 635.26,502.95 635.68,504.59 636.11,506.2 636.54,507.77 636.96,509.3 637.39,510.75 637.82,512.12 638.25,513.34 638.67,514.38 639.1,515.16 639.53,515.61 639.95,515.68 640.38,515.34 640.81,514.66 641.23,513.69 641.66,512.51 642.09,511.19 642.51,509.76 642.94,508.25 643.37,506.69 643.79,505.09 644.22,503.46 644.65,501.81 645.07,500.15 645.5,498.47 645.93,496.79 646.35,495.1 646.78,493.42 647.21,491.74 647.63,490.07 648.06,488.42 648.49,486.78 648.91,485.17 649.34,483.6 649.77,482.08 650.19,480.62 650.62,479.26 651.05,478.04 651.47,477 651.9,476.23 652.33,475.78 652.75,475.73 653.18,476.07 653.61,476.76 654.03,477.73 654.46,478.91 654.89,480.24 655.31,481.67 655.74,483.17 656.17,484.73 656.6,486.34 657.02,487.97 657.45,489.62 657.88,491.28 658.3,492.96 658.73,494.64 659.16,496.32 659.58,498.01 660.01,499.69 660.44,501.35 660.86,503.01 661.29,504.65 661.72,506.25 662.14,507.83 662.57,509.35 663,510.8 663.42,512.16 663.85,513.38 664.28,514.41 664.7,515.18 665.13,515.62 665.56,515.67 665.98,515.32 666.41,514.63 666.84,513.65 667.26,512.47 667.69,511.14 668.12,509.71 668.54,508.2 668.97,506.64 669.4,505.04 669.82,503.41 670.25,501.75 670.68,500.09 671.1,498.41 671.53,496.73 671.96,495.05 672.38,493.36 672.81,491.69 673.24,490.02 673.67,488.36 674.09,486.73 674.52,485.12 674.95,483.55 675.37,482.02 675.8,480.57 676.23,479.22 676.65,478 677.08,476.97 677.51,476.2 677.93,475.77 678.36,475.73 678.79,476.09 679.21,476.79 679.64,477.77 680.07,478.95 680.49,480.28 680.92,481.72 681.35,483.23 681.77,484.79 682.2,486.39 682.63,488.02 683.05,489.67 683.48,491.34 683.91,493.02 684.33,494.7 684.76,496.38 685.19,498.07 685.61,499.74 686.04,501.41 686.47,503.07 686.89,504.7 687.32,506.31 687.75,507.88 688.17,509.4 688.6,510.85 689.03,512.2 689.45,513.42 689.88,514.44 690.31,515.21 690.73,515.63 691.16,515.67 691.59,515.31 692.02,514.6 692.44,513.61 692.87,512.43 693.3,511.09 693.72,509.66 694.15,508.15 694.58,506.58 695,504.98 695.43,503.35 695.86,501.7 696.28,500.03 696.71,498.35 697.14,496.67 697.56,494.99 697.99,493.31 698.42,491.63 698.84,489.96 699.27,488.31 699.7,486.67 700.12,485.06 700.55,483.49 700.98,481.97 701.4,480.52 701.83,479.17 702.26,477.96 702.68,476.94 703.11,476.18 703.54,475.77 703.96,475.74 704.39,476.1 704.82,476.82 705.24,477.81 705.67,479 706.1,480.33 706.52,481.77 706.95,483.28 707.38,484.84 707.8,486.45 708.23,488.08 708.66,489.73 709.08,491.4 709.51,493.07 709.94,494.76 710.37,496.44 710.79,498.12 711.22,499.8 711.65,501.47 712.07,503.12 712.5,504.76 712.93,506.36 713.35,507.93 713.78,509.45 714.21,510.9 714.63,512.25 715.06,513.46 715.49,514.48 715.91,515.23 716.34,515.64 716.77,515.66 717.19,515.29 717.62,514.57 718.05,513.57 718.47,512.38 718.9,511.05 719.33,509.61 719.75,508.09 720.18,506.53 720.61,504.92 721.03,503.29 721.46,501.64 721.89,499.97 722.31,498.3 722.74,496.61 723.17,494.93 723.59,493.25 724.02,491.57 724.45,489.9 724.87,488.25 725.3,486.61 725.73,485.01 726.15,483.44 726.58,481.92 727.01,480.48 727.43,479.13 727.86,477.92 728.29,476.91 728.72,476.16 729.14,475.76 729.57,475.74 730,476.12 730.42,476.85 730.85,477.84 731.28,479.04 731.7,480.38 732.13,481.82 732.56,483.33 732.98,484.9 733.41,486.5 733.84,488.14 734.26,489.79 734.69,491.46 735.12,493.13 735.54,494.81 735.97,496.5 736.4,498.18 736.82,499.86 737.25,501.53 737.68,503.18 738.1,504.81 738.53,506.42 738.96,507.99 739.38,509.5 739.81,510.95 740.24,512.29 740.66,513.5 741.09,514.51 741.52,515.25 741.94,515.65 742.37,515.65 742.8,515.27 743.22,514.54 743.65,513.54 744.08,512.34 744.5,511 744.93,509.56 745.36,508.04 745.78,506.47 746.21,504.87 746.64,503.24 747.07,501.58 747.49,499.92 747.92,498.24 748.35,496.56 748.77,494.87 749.2,493.19 749.63,491.51 750.05,489.85 750.48,488.19 750.91,486.56 751.33,484.95 751.76,483.39 752.19,481.87 752.61,480.43 753.04,479.08 753.47,477.88 753.89,476.88 754.32,476.14 754.75,475.75 755.17,475.75 755.6,476.14 756.03,476.88 756.45,477.88 756.88,479.08 757.31,480.43 757.73,481.87 758.16,483.39 758.59,484.95 759.01,486.56 759.44,488.19 759.87,489.85 760.29,491.51 760.72,493.19 761.15,494.87 761.57,496.56 762,498.24 762.43,499.92 762.85,501.58 763.28,503.24 763.71,504.87 764.14,506.47 764.56,508.04 764.99,509.56 765.42,511 765.84,512.34 766.27,513.54 766.7,514.54 767.12,515.27 767.55,515.65 767.98,515.65 768.4,515.25 768.83,514.51 769.26,513.5 769.68,512.29 770.11,510.95 770.54,509.5 770.96,507.99 771.39,506.42 771.82,504.81 772.24,503.18 772.67,501.53 773.1,499.86 773.52,498.18 773.95,496.5 774.38,494.81 774.8,493.13 775.23,491.46 775.66,489.79 776.08,488.14 776.51,486.5 776.94,484.9 777.36,483.33 777.79,481.82 778.22,480.38 778.64,479.04 779.07,477.84 779.5,476.85 779.92,476.12 780.35,475.74 780.78,475.76 781.2,476.16 781.63,476.91 782.06,477.92 782.49,479.13 782.91,480.48 783.34,481.92 783.77,483.44 784.19,485.01 784.62,486.61 785.05,488.25 785.47,489.9 785.9,491.57 786.33,493.25 786.75,494.93 787.18,496.61 787.61,498.3 788.03,499.97 788.46,501.64 788.89,503.29 789.31,504.92 789.74,506.53 790.17,508.09 790.59,509.61 791.02,511.05 791.45,512.38 791.87,513.57 792.3,514.57 792.73,515.29 793.15,515.66 793.58,515.64 794.01,515.23 794.43,514.48 794.86,513.46 795.29,512.25 795.71,510.9 796.14,509.45 796.57,507.93 796.99,506.36 797.42,504.76 797.85,503.12 798.27,501.47 798.7,499.8 799.13,498.12 799.55,496.44 799.98,494.76 800.41,493.07 800.84,491.4 801.26,489.73 801.69,488.08 802.12,486.45 802.54,484.84 802.97,483.28 803.4,481.77 803.82,480.33 804.25,479 804.68,477.81 805.1,476.82 805.53,476.1 805.96,475.74 806.38,475.77 806.81,476.18 807.24,476.94 807.66,477.96 808.09,479.17 808.52,480.52 808.94,481.97 809.37,483.49 809.8,485.06 810.22,486.67 810.65,488.31 811.08,489.96 811.5,491.63 811.93,493.31 812.36,494.99 812.78,496.67 813.21,498.35 813.64,500.03 814.06,501.7 814.49,503.35 814.92,504.98 815.34,506.58 815.77,508.15 816.2,509.66 816.62,511.09 817.05,512.43 817.48,513.61 817.9,514.6 818.33,515.31 818.76,515.67 819.19,515.63 819.61,515.21 820.04,514.44 820.47,513.42 820.89,512.2 821.32,510.85 821.75,509.4 822.17,507.88 822.6,506.31 823.03,504.7 823.45,503.07 823.88,501.41 824.31,499.74 824.73,498.07 825.16,496.38 825.59,494.7 826.01,493.02 826.44,491.34 826.87,489.67 827.29,488.02 827.72,486.39 828.15,484.79 828.57,483.23 829,481.72 829.43,480.28 829.85,478.95 830.28,477.77 830.71,476.79 831.13,476.09 831.56,475.73 831.99,475.77 832.41,476.2 832.84,476.97 833.27,478 833.69,479.22 834.12,480.57 834.55,482.02 834.97,483.55 835.4,485.12 835.83,486.73 836.25,488.36 836.68,490.02 837.11,491.69 837.54,493.36 837.96,495.05 838.39,496.73 838.82,498.41 839.24,500.09 839.67,501.75 840.1,503.41 840.52,505.04 840.95,506.64 841.38,508.2 841.8,509.71 842.23,511.14 842.66,512.47 843.08,513.65 843.51,514.63 843.94,515.32 844.36,515.67 844.79,515.62 845.22,515.18 845.64,514.41 846.07,513.38 846.5,512.16 846.92,510.8 847.35,509.35 847.78,507.83 848.2,506.25 848.63,504.65 849.06,503.01 849.48,501.35 849.91,499.69 850.34,498.01 850.76,496.32 851.19,494.64 851.62,492.96 852.04,491.28 852.47,489.62 852.9,487.97 853.32,486.34 853.75,484.73 854.18,483.17 854.61,481.67 855.03,480.24 855.46,478.91 855.89,477.73 856.31,476.76 856.74,476.07 857.17,475.73 857.59,475.78 858.02,476.23 858.45,477 858.87,478.04 859.3,479.26 859.73,480.62 860.15,482.08 860.58,483.6 861.01,485.17 861.43,486.78 861.86,488.42 862.29,490.07 862.71,491.74 863.14,493.42 863.57,495.1 863.99,496.79 864.42,498.47 864.85,500.15 865.27,501.81 865.7,503.46 866.13,505.09 866.55,506.69 866.98,508.25 867.41,509.76 867.83,511.19 868.26,512.51 868.69,513.69 869.11,514.66 869.54,515.34 869.97,515.68 870.39,515.61 870.82,515.16 871.25,514.38 871.67,513.34 872.1,512.12 872.53,510.75 872.96,509.3 873.38,507.77 873.81,506.2 874.24,504.59 874.66,502.95 875.09,501.3 875.52,499.63 875.94,497.95 876.37,496.27 876.8,494.58 877.22,492.9 877.65,491.22 878.08,489.56 878.5,487.91 878.93,486.28 879.36,484.68 879.78,483.12 880.21,481.62 880.64,480.19 881.06,478.87 881.49,477.69 881.92,476.73 882.34,476.05 882.77,475.72 883.2,475.79 883.62,476.25 884.05,477.03 884.48,478.08 884.9,479.31 885.33,480.67 885.76,482.13 886.18,483.65 886.61,485.23 887.04,486.84 887.46,488.48 887.89,490.13 888.32,491.8 888.74,493.48 889.17,495.16 889.6,496.85 890.02,498.53 890.45,500.2 890.88,501.87 891.31,503.52 891.73,505.15 892.16,506.75 892.59,508.31 893.01,509.81 893.44,511.24 893.87,512.56 894.29,513.72 894.72,514.68 895.15,515.36 895.57,515.68 896,515.6 896.43,515.14 896.85,514.35 897.28,513.3 897.71,512.07 898.13,510.71 898.56,509.25 898.99,507.72 899.41,506.14 899.84,504.53 900.27,502.9 900.69,501.24 901.12,499.57 901.55,497.89 901.97,496.21 902.4,494.52 902.83,492.84 903.25,491.17 903.68,489.5 904.11,487.85 904.53,486.22 904.96,484.63 905.39,483.07 905.81,481.57 906.24,480.14 906.67,478.82 907.09,477.66 907.52,476.7 907.95,476.03 908.37,475.72 908.8,475.8 909.23,476.27 909.66,477.07 910.08,478.12 910.51,479.35 910.94,480.72 911.36,482.18 911.79,483.71 912.22,485.28 912.64,486.89 913.07,488.53 913.5,490.19 913.92,491.86 914.35,493.54 914.78,495.22 915.2,496.9 915.63,498.59 916.06,500.26 916.48,501.93 916.91,503.58 917.34,505.2 917.76,506.8 918.19,508.36 918.62,509.86 919.04,511.28 919.47,512.6 919.9,513.76 920.32,514.71 920.75,515.38 921.18,515.68 921.6,515.59 922.03,515.12 922.46,514.32 922.88,513.26 923.31,512.03 923.74,510.66 924.16,509.2 924.59,507.67 925.02,506.09 925.44,504.48 925.87,502.84 926.3,501.18 926.72,499.51 927.15,497.83 927.58,496.15 928.01,494.47 928.43,492.78 928.86,491.11 929.29,489.44 929.71,487.8 930.14,486.17 930.57,484.57 930.99,483.01 931.42,481.51 931.85,480.09 932.27,478.78 932.7,477.62 933.13,476.67 933.55,476.01 933.98,475.71 934.41,475.81 934.83,476.29 935.26,477.1 935.69,478.16 936.11,479.4 936.54,480.77 936.97,482.23 937.39,483.76 937.82,485.34 938.25,486.95 938.67,488.59 939.1,490.25 939.53,491.92 939.95,493.6 940.38,495.28 940.81,496.96 941.23,498.64 941.66,500.32 942.09,501.98 942.51,503.63 942.94,505.26 943.37,506.86 943.79,508.41 944.22,509.91 944.65,511.33 945.08,512.64 945.5,513.8 945.93,514.74 946.36,515.39 946.78,515.69 947.21,515.58 947.64,515.1 948.06,514.28 948.49,513.22 948.92,511.98 949.34,510.61 949.77,509.14 950.2,507.61 950.62,506.03 951.05,504.42 951.48,502.78 951.9,501.12 952.33,499.45 952.76,497.78 953.18,496.09 953.61,494.41 954.04,492.73 954.46,491.05 954.89,489.39 955.32,487.74 955.74,486.11 956.17,484.52 956.6,482.96 957.02,481.46 957.45,480.05 957.88,478.74 958.3,477.58 958.73,476.65 959.16,476 959.58,475.71 960.01,475.82 960.44,476.31 960.86,477.13 961.29,478.2 961.72,479.44 962.14,480.82 962.57,482.28 963,483.81 963.43,485.39 963.85,487.01 964.28,488.65 964.71,490.3 965.13,491.97 965.56,493.65 965.99,495.34 966.41,497.02 966.84,498.7 967.27,500.38 967.69,502.04 968.12,503.69 968.55,505.31 968.97,506.91 969.4,508.46 969.83,509.96 970.25,511.38 970.68,512.68 971.11,513.84 971.53,514.77 971.96,515.41 972.39,515.69 972.81,515.57 973.24,515.07 973.67,514.25 974.09,513.18 974.52,511.93 974.95,510.56 975.37,509.09 975.8,507.56 976.23,505.98 976.65,504.36 977.08,502.73 977.51,501.07 977.93,499.4 978.36,497.72 978.79,496.03 979.21,494.35 979.64,492.67 980.07,490.99 980.49,489.33 980.92,487.68 981.35,486.06 981.78,484.46 982.2,482.91 982.63,481.41 983.06,480 983.48,478.69 983.91,477.55 984.34,476.62 984.76,475.98 985.19,475.71 985.62,475.83 986.04,476.34 986.47,477.17 986.9,478.24 987.32,479.49 987.75,480.87 988.18,482.33 988.6,483.87 989.03,485.45 989.46,487.06 989.88,488.7 990.31,490.36 990.74,492.03 991.16,493.71 991.59,495.4 992.02,497.08 992.44,498.76 992.87,500.43 993.3,502.1 993.72,503.75 994.15,505.37 994.58,506.96 995,508.52 995.43,510.01 995.86,511.43 996.28,512.73 996.71,513.87 997.14,514.8 997.56,515.43 997.99,515.69 998.42,515.56 998.84,515.05 999.27,514.22 999.7,513.14 1000.13,511.89 1000.55,510.51 1000.98,509.04 1001.41,507.51 1001.83,505.92 1002.26,504.31 1002.69,502.67 1003.11,501.01 1003.54,499.34 1003.97,497.66 1004.39,495.98 1004.82,494.29 1005.25,492.61 1005.67,490.94 1006.1,489.27 1006.53,487.63 1006.95,486 1007.38,484.41 1007.81,482.86 1008.23,481.36 1008.66,479.95 1009.09,478.65 1009.51,477.51 1009.94,476.59 1010.37,475.97 1010.79,475.7 1011.22,475.84 1011.65,476.36 1012.07,477.2 1012.5,478.28 1012.93,479.53 1013.35,480.92 1013.78,482.39 1014.21,483.92 1014.63,485.5 1015.06,487.12 1015.49,488.76 1015.91,490.42 1016.34,492.09 1016.77,493.77 1017.19,495.45 1017.62,497.14 1018.05,498.82 1018.48,500.49 1018.9,502.16 1019.33,503.8 1019.76,505.43 1020.18,507.02 1020.61,508.57 1021.04,510.06 1021.46,511.47 1021.89,512.77 1022.32,513.91 1022.74,514.82 1023.17,515.44 1023.6,515.7 1024.02,515.55 1024.45,515.03 1024.88,514.18 1025.3,513.1 1025.73,511.84 1026.16,510.46 1026.58,508.99 1027.01,507.45 1027.44,505.87 1027.86,504.25 1028.29,502.61 1028.72,500.95 1029.14,499.28 1029.57,497.6 1030,495.92 1030.42,494.23 1030.85,492.55 1031.28,490.88 1031.7,489.22 1032.13,487.57 1032.56,485.95 1032.98,484.35 1033.41,482.8 1033.84,481.31 1034.26,479.9 1034.69,478.61 1035.12,477.47 1035.55,476.56 1035.97,475.95 1036.4,475.7 1036.83,475.86 1037.25,476.39 1037.68,477.23 1038.11,478.32 1038.53,479.58 1038.96,480.96 1039.39,482.44 1039.81,483.98 1040.24,485.56 1040.67,487.18 1041.09,488.82 1041.52,490.48 1041.95,492.15 1042.37,493.83 1042.8,495.51 1043.23,497.2 1043.65,498.88 1044.08,500.55 1044.51,502.21 1044.93,503.86 1045.36,505.48 1045.79,507.07 1046.21,508.62 1046.64,510.11 1047.07,511.52 1047.49,512.81 1047.92,513.94 1048.35,514.85 1048.77,515.46 1049.2,515.7 1049.63,515.54 1050.05,515 1050.48,514.15 1050.91,513.06 1051.33,511.8 1051.76,510.41 1052.19,508.94 1052.61,507.4 1053.04,505.81 1053.47,504.2 1053.9,502.55 1054.32,500.89 1054.75,499.22 1055.18,497.54 1055.6,495.86 1056.03,494.18 1056.46,492.5 1056.88,490.82 1057.31,489.16 1057.74,487.51 1058.16,485.89 1058.59,484.3 1059.02,482.75 1059.44,481.26 1059.87,479.86 1060.3,478.57 1060.72,477.44 1061.15,476.54 1061.58,475.94 1062,475.7 1062.43,475.87 1062.86,476.41 1063.28,477.27 1063.71,478.36 1064.14,479.63 1064.56,481.01 1064.99,482.49 1065.42,484.03 1065.84,485.61 1066.27,487.23 1066.7,488.87 1067.12,490.53 1067.55,492.21 1067.98,493.89 1068.4,495.57 1068.83,497.25 1069.26,498.93 1069.68,500.61 1070.11,502.27 1070.54,503.91 1070.96,505.54 1071.39,507.13 1071.82,508.67 1072.25,510.16 1072.67,511.57 1073.1,512.85 1073.53,513.98 1073.95,514.88 1074.38,515.47 1074.81,515.7 1075.23,515.53 1075.66,514.98 1076.09,514.12 1076.51,513.02 1076.94,511.75 1077.37,510.36 1077.79,508.88 1078.22,507.34 1078.65,505.76 1079.07,504.14 1079.5,502.5 1079.93,500.84 1080.35,499.17 1080.78,497.49 1081.21,495.8 1081.63,494.12 1082.06,492.44 1082.49,490.76 1082.91,489.1 1083.34,487.46 1083.77,485.84 1084.19,484.25 1084.62,482.7 1085.05,481.21 1085.47,479.81 1085.9,478.53 1086.33,477.4 1086.75,476.51 1087.18,475.92 1087.61,475.7 1088.03,475.88 1088.46,476.43 1088.89,477.3 1089.31,478.4 1089.74,479.67 1090.17,481.06 1090.6,482.54 1091.02,484.08 1091.45,485.67 1091.88,487.29 1092.3,488.93 1092.73,490.59 1093.16,492.26 1093.58,493.94 1094.01,495.63 1094.44,497.31 1094.86,498.99 1095.29,500.66 1095.72,502.33 1096.14,503.97 1096.57,505.59 1097,507.18 1097.42,508.73 1097.85,510.21 1098.28,511.61 1098.7,512.9 1099.13,514.01 1099.56,514.9 1099.98,515.49 1100.41,515.7 1100.84,515.51 1101.26,514.95 1101.69,514.08 1102.12,512.98 1102.54,511.71 1102.97,510.31 1103.4,508.83 1103.82,507.29 1104.25,505.7 1104.68,504.08 1105.1,502.44 1105.53,500.78 1105.96,499.11 1106.38,497.43 1106.81,495.74 1107.24,494.06 1107.66,492.38 1108.09,490.71 1108.52,489.05 1108.95,487.4 1109.37,485.78 1109.8,484.19 1110.23,482.65 1110.65,481.16 1111.08,479.76 1111.51,478.48 1111.93,477.37 1112.36,476.49 1112.79,475.91 1113.21,475.7 1113.64,475.89 1114.07,476.46 1114.49,477.33 1114.92,478.44 1115.35,479.72 1115.77,481.11 1116.2,482.59 1116.63,484.14 1117.05,485.72 1117.48,487.34 1117.91,488.99 1118.33,490.65 1118.76,492.32 1119.19,494 1119.61,495.69 1120.04,497.37 1120.47,499.05 1120.89,500.72 1121.32,502.38 1121.75,504.03 1122.17,505.65 1122.6,507.24 1123.03,508.78 1123.45,510.26 1123.88,511.66 1124.31,512.94 1124.73,514.05 1125.16,514.93 1125.59,515.5 1126.01,515.7 Q1127.51,515.7 1128.41,507 C1130.5,490 1139,477.3 1163,477.3 L1187,477.3" fill="none" stroke="#121212" stroke-width="3.9" stroke-linejoin="round"/>
<g transform="translate(263.3,478.2) scale(0.86)">
<rect x="0" y="-7.2" width="13.5" height="14.4" rx="1.5" fill="#8e8e8e"/>
<rect x="0.5" y="-7.2" width="12.5" height="2" fill="#b9b9b9"/>
<rect x="0.5" y="5.2" width="12.5" height="2" fill="#b0b0b0"/>
<path d="M12.9,-8.5 Q12.9,-9.5 14,-9.5 L46,-9.5 Q47,-9.5 47.8,-8.8 C51,-6.5 55,-5.5 65.7,-5.3 L65.7,5.3 C55,5.5 51,6.5 47.8,8.8 Q47,9.5 46,9.5 L14,9.5 Q12.9,9.5 12.9,8.5 Z" fill="#2c2c2c"/>
<rect x="65.2" y="-5.8" width="4.7" height="11.6" rx="1.8" fill="#262626"/>
<rect x="13.6" y="-7.6" width="33.6" height="1.8" fill="#8a8a8a"/>
<rect x="13.6" y="5.4" width="33.6" height="1.8" fill="#8a8a8a"/>
<text transform="translate(29.4,0) rotate(180)" x="0" y="2.9" text-anchor="middle" font-family="Liberation Sans" font-weight="bold" font-size="7.8" fill="#f2f2f2" textLength="27.6" lengthAdjust="spacingAndGlyphs">ACVEE</text>
</g>
<g transform="translate(1249.8,478.5) scale(0.86)">
<rect x="-23.6" y="-10.95" width="23.6" height="21.9" fill="#9c9c9c"/>
<rect x="-23.6" y="-10.95" width="23.6" height="1.6" fill="#b4b4b4"/>
<rect x="-13.4" y="-7.9" width="3.8" height="3.4" fill="#3a3a3a"/>
<rect x="-13.4" y="3.9" width="3.8" height="4.2" fill="#3a3a3a"/>
<path d="M-23.4,-13.65 L-50.5,-13.65 Q-51.6,-13.65 -52.3,-12.6 C-55,-8.6 -60,-6.3 -70.8,-6.2 L-70.8,6.2 C-60,6.3 -55,8.6 -52.3,12.6 Q-51.6,13.65 -50.5,13.65 L-23.4,13.65 Z" fill="#2c2c2c"/>
<rect x="-75" y="-6.3" width="4.8" height="12.6" rx="1.8" fill="#262626"/>
<rect x="-50" y="-11" width="26.6" height="1.8" fill="#808080"/>
<rect x="-50" y="9.8" width="26.6" height="1.8" fill="#808080"/>
<g fill="#f4f4f4" stroke="#f4f4f4" transform="translate(-37.8,0) scale(0.88) translate(37.8,0)">
<circle cx="-44.4" cy="0" r="2.3" stroke="none"/>
<path d="M-44,0 L-27.5,0 M-40,0 L-36.8,-3.2 L-32.5,-3.2 M-38.5,0 L-35.3,3.2 L-31.5,3.2" stroke-width="1.5" fill="none"/>
<circle cx="-32" cy="-3.2" r="1.5" stroke="none"/>
<circle cx="-31" cy="3.2" r="1.5" stroke="none"/>
<circle cx="-27" cy="0" r="1.5" stroke="none"/>
</g>
</g></g>
<g filter="url(#sh3)"><path d="M119,665.4 L166.5,665.4 Q169.5,665.4 170.3,669.5 L171.6,677 Q172.6,681 176.05,681 L 176.05,681 177.25,680.91 178.45,680.64 179.64,680.2 180.84,679.6 182.04,678.85 183.24,677.97 184.43,676.99 185.63,675.92 186.83,674.8 188.03,673.65 189.22,672.5 190.42,671.38 191.62,670.31 192.81,669.33 194.01,668.45 195.21,667.7 196.41,667.1 197.61,666.66 198.8,666.39 200,666.3 201.2,666.39 202.4,666.66 203.59,667.1 204.79,667.7 205.99,668.45 207.19,669.33 208.38,670.31 209.58,671.38 210.78,672.5 211.98,673.65 213.17,674.8 214.37,675.92 215.57,676.99 216.77,677.97 217.96,678.85 219.16,679.6 220.36,680.2 221.56,680.64 222.75,680.91 223.95,681 225.15,680.91 226.34,680.64 227.54,680.2 228.74,679.6 229.94,678.85 231.14,677.97 232.33,676.99 233.53,675.92 234.73,674.8 235.93,673.65 237.12,672.5 238.32,671.38 239.52,670.31 240.72,669.33 241.91,668.45 243.11,667.7 244.31,667.1 245.5,666.66 246.7,666.39 247.9,666.3 249.1,666.39 250.3,666.66 251.49,667.1 252.69,667.7 253.89,668.45 255.09,669.33 256.28,670.31 257.48,671.38 258.68,672.5 259.88,673.65 261.07,674.8 262.27,675.92 263.47,676.99 264.67,677.97 265.86,678.85 267.06,679.6 268.26,680.2 269.45,680.64 270.65,680.91 271.85,681 273.05,680.91 274.25,680.64 275.44,680.2 276.64,679.6 277.84,678.85 279.03,677.97 280.23,676.99 281.43,675.92 282.63,674.8 283.82,673.65 285.02,672.5 286.22,671.38 287.42,670.31 288.62,669.33 289.81,668.45 291.01,667.7 292.21,667.1 293.4,666.66 294.6,666.39 295.8,666.3 297,666.39 298.19,666.66 299.39,667.1 300.59,667.7 301.79,668.45 302.99,669.33 304.18,670.31 305.38,671.38 306.58,672.5 307.77,673.65 308.97,674.8 310.17,675.92 311.37,676.99 312.56,677.97 313.76,678.85 314.96,679.6 316.16,680.2 317.36,680.64 318.55,680.91 319.75,681 320.95,680.91 322.14,680.64 323.34,680.2 324.54,679.6 325.74,678.85 326.93,677.97 328.13,676.99 329.33,675.92 330.53,674.8 331.73,673.65 332.92,672.5 334.12,671.38 335.32,670.31 336.51,669.33 337.71,668.45 338.91,667.7 340.11,667.1 341.31,666.66 342.5,666.39 343.7,666.3 344.9,666.39 346.1,666.66 347.29,667.1 348.49,667.7 349.69,668.45 350.88,669.33 352.08,670.31 353.28,671.38 354.48,672.5 355.68,673.65 356.87,674.8 358.07,675.92 359.27,676.99 360.47,677.97 361.66,678.85 362.86,679.6 364.06,680.2 365.25,680.64 366.45,680.91 367.65,681 368.85,680.91 370.04,680.64 371.24,680.2 372.44,679.6 373.64,678.85 374.83,677.97 376.03,676.99 377.23,675.92 378.43,674.8 379.62,673.65 380.82,672.5 382.02,671.38 383.22,670.31 384.41,669.33 385.61,668.45 386.81,667.7 388.01,667.1 389.21,666.66 390.4,666.39 391.6,666.3 392.8,666.39 394,666.66 395.19,667.1 396.39,667.7 397.59,668.45 398.78,669.33 399.98,670.31 401.18,671.38 402.38,672.5 403.57,673.65 404.77,674.8 405.97,675.92 407.17,676.99 408.37,677.97 409.56,678.85 410.76,679.6 411.96,680.2 413.15,680.64 414.35,680.91 415.55,681 416.75,680.91 417.94,680.64 419.14,680.2 420.34,679.6 421.54,678.85 422.74,677.97 423.93,676.99 425.13,675.92 426.33,674.8 427.52,673.65 428.72,672.5 429.92,671.38 431.12,670.31 432.31,669.33 433.51,668.45 434.71,667.7 435.91,667.1 437.11,666.66 438.3,666.39 439.5,666.3 440.7,666.39 441.89,666.66 443.09,667.1 444.29,667.7 445.49,668.45 446.69,669.33 447.88,670.31 449.08,671.38 450.28,672.5 451.48,673.65 452.67,674.8 453.87,675.92 455.07,676.99 456.26,677.97 457.46,678.85 458.66,679.6 459.86,680.2 461.06,680.64 462.25,680.91 463.45,681 464.65,680.91 465.84,680.64 467.04,680.2 468.24,679.6 469.44,678.85 470.63,677.97 471.83,676.99 473.03,675.92 474.23,674.8 475.43,673.65 476.62,672.5 477.82,671.38 479.02,670.31 480.21,669.33 481.41,668.45 482.61,667.7 483.81,667.1 485,666.66 486.2,666.39 487.4,666.3 488.6,666.39 489.79,666.66 490.99,667.1 492.19,667.7 493.39,668.45 494.58,669.33 495.78,670.31 496.98,671.38 498.18,672.5 499.38,673.65 500.57,674.8 501.77,675.92 502.97,676.99 504.16,677.97 505.36,678.85 506.56,679.6 507.76,680.2 508.95,680.64 510.15,680.91 511.35,681 512.55,680.91 513.74,680.64 514.94,680.2 516.14,679.6 517.34,678.85 518.53,677.97 519.73,676.99 520.93,675.92 522.13,674.8 523.33,673.65 524.52,672.5 525.72,671.38 526.92,670.31 528.12,669.33 529.31,668.45 530.51,667.7 531.71,667.1 532.9,666.66 534.1,666.39 535.3,666.3 536.5,666.39 537.69,666.66 538.89,667.1 540.09,667.7 541.29,668.45 542.49,669.33 543.68,670.31 544.88,671.38 546.08,672.5 547.28,673.65 548.47,674.8 549.67,675.92 550.87,676.99 552.07,677.97 553.26,678.85 554.46,679.6 555.66,680.2 556.86,680.64 558.05,680.91 559.25,681 560.45,680.91 561.64,680.64 562.84,680.2 564.04,679.6 565.24,678.85 566.43,677.97 567.63,676.99 568.83,675.92 570.03,674.8 571.22,673.65 572.42,672.5 573.62,671.38 574.82,670.31 576.01,669.33 577.21,668.45 578.41,667.7 579.61,667.1 580.81,666.66 582,666.39 583.2,666.3 584.4,666.39 585.6,666.66 586.79,667.1 587.99,667.7 589.19,668.45 590.38,669.33 591.58,670.31 592.78,671.38 593.98,672.5 595.17,673.65 596.37,674.8 597.57,675.92 598.77,676.99 599.96,677.97 601.16,678.85 602.36,679.6 603.56,680.2 604.75,680.64 605.95,680.91 607.15,681 608.35,680.91 609.54,680.64 610.74,680.2 611.94,679.6 613.14,678.85 614.34,677.97 615.53,676.99 616.73,675.92 617.93,674.8 619.12,673.65 620.32,672.5 621.52,671.38 622.72,670.31 623.91,669.33 625.11,668.45 626.31,667.7 627.51,667.1 628.7,666.66 629.9,666.39 631.1,666.3 632.3,666.39 633.49,666.66 634.69,667.1 635.89,667.7 637.09,668.45 638.28,669.33 639.48,670.31 640.68,671.38 641.88,672.5 643.07,673.65 644.27,674.8 645.47,675.92 646.67,676.99 647.87,677.97 649.06,678.85 650.26,679.6 651.46,680.2 652.65,680.64 653.85,680.91 655.05,681 656.25,680.91 657.44,680.64 658.64,680.2 659.84,679.6 661.04,678.85 662.24,677.97 663.43,676.99 664.63,675.92 665.83,674.8 667.02,673.65 668.22,672.5 669.42,671.38 670.62,670.31 671.82,669.33 673.01,668.45 674.21,667.7 675.41,667.1 676.61,666.66 677.8,666.39 679,666.3 680.2,666.39 681.39,666.66 682.59,667.1 683.79,667.7 684.99,668.45 686.18,669.33 687.38,670.31 688.58,671.38 689.78,672.5 690.97,673.65 692.17,674.8 693.37,675.92 694.57,676.99 695.76,677.97 696.96,678.85 698.16,679.6 699.36,680.2 700.56,680.64 701.75,680.91 702.95,681 704.15,680.91 705.35,680.64 706.54,680.2 707.74,679.6 708.94,678.85 710.13,677.97 711.33,676.99 712.53,675.92 713.73,674.8 714.92,673.65 716.12,672.5 717.32,671.38 718.52,670.31 719.71,669.33 720.91,668.45 722.11,667.7 723.31,667.1 724.5,666.66 725.7,666.39 726.9,666.3 728.1,666.39 729.3,666.66 730.49,667.1 731.69,667.7 732.89,668.45 734.09,669.33 735.28,670.31 736.48,671.38 737.68,672.5 738.88,673.65 740.07,674.8 741.27,675.92 742.47,676.99 743.66,677.97 744.86,678.85 746.06,679.6 747.26,680.2 748.45,680.64 749.65,680.91 750.85,681 752.05,680.91 753.24,680.64 754.44,680.2 755.64,679.6 756.84,678.85 758.04,677.97 759.23,676.99 760.43,675.92 761.63,674.8 762.83,673.65 764.02,672.5 765.22,671.38 766.42,670.31 767.62,669.33 768.81,668.45 770.01,667.7 771.21,667.1 772.4,666.66 773.6,666.39 774.8,666.3 776,666.39 777.19,666.66 778.39,667.1 779.59,667.7 780.79,668.45 781.98,669.33 783.18,670.31 784.38,671.38 785.58,672.5 786.78,673.65 787.97,674.8 789.17,675.92 790.37,676.99 791.56,677.97 792.76,678.85 793.96,679.6 795.16,680.2 796.36,680.64 797.55,680.91 798.75,681 799.95,680.91 801.14,680.64 802.34,680.2 803.54,679.6 804.74,678.85 805.93,677.97 807.13,676.99 808.33,675.92 809.53,674.8 810.72,673.65 811.92,672.5 813.12,671.38 814.32,670.31 815.51,669.33 816.71,668.45 817.91,667.7 819.11,667.1 820.3,666.66 821.5,666.39 822.7,666.3 823.9,666.39 825.1,666.66 826.29,667.1 827.49,667.7 828.69,668.45 829.88,669.33 831.08,670.31 832.28,671.38 833.48,672.5 834.67,673.65 835.87,674.8 837.07,675.92 838.27,676.99 839.46,677.97 840.66,678.85 841.86,679.6 843.06,680.2 844.25,680.64 845.45,680.91 846.65,681 847.85,680.91 849.05,680.64 850.24,680.2 851.44,679.6 852.64,678.85 853.84,677.97 855.03,676.99 856.23,675.92 857.43,674.8 858.62,673.65 859.82,672.5 861.02,671.38 862.22,670.31 863.41,669.33 864.61,668.45 865.81,667.7 867.01,667.1 868.2,666.66 869.4,666.39 870.6,666.3 871.8,666.39 872.99,666.66 874.19,667.1 875.39,667.7 876.59,668.45 877.79,669.33 878.98,670.31 880.18,671.38 881.38,672.5 882.58,673.65 883.77,674.8 884.97,675.92 886.17,676.99 887.37,677.97 888.56,678.85 889.76,679.6 890.96,680.2 892.15,680.64 893.35,680.91 894.55,681 895.75,680.91 896.94,680.64 898.14,680.2 899.34,679.6 900.54,678.85 901.73,677.97 902.93,676.99 904.13,675.92 905.33,674.8 906.53,673.65 907.72,672.5 908.92,671.38 910.12,670.31 911.31,669.33 912.51,668.45 913.71,667.7 914.91,667.1 916.11,666.66 917.3,666.39 918.5,666.3 919.7,666.39 920.89,666.66 922.09,667.1 923.29,667.7 924.49,668.45 925.68,669.33 926.88,670.31 928.08,671.38 929.28,672.5 930.47,673.65 931.67,674.8 932.87,675.92 934.07,676.99 935.26,677.97 936.46,678.85 937.66,679.6 938.86,680.2 940.05,680.64 941.25,680.91 942.45,681 943.65,680.91 944.85,680.64 946.04,680.2 947.24,679.6 948.44,678.85 949.63,677.97 950.83,676.99 952.03,675.92 953.23,674.8 954.42,673.65 955.62,672.5 956.82,671.38 958.02,670.31 959.21,669.33 960.41,668.45 961.61,667.7 962.81,667.1 964,666.66 965.2,666.39 966.4,666.3 967.6,666.39 968.8,666.66 969.99,667.1 971.19,667.7 972.39,668.45 973.59,669.33 974.78,670.31 975.98,671.38 977.18,672.5 978.38,673.65 979.57,674.8 980.77,675.92 981.97,676.99 983.16,677.97 984.36,678.85 985.56,679.6 986.76,680.2 987.95,680.64 989.15,680.91 990.35,681 991.55,680.91 992.74,680.64 993.94,680.2 995.14,679.6 996.34,678.85 997.54,677.97 998.73,676.99 999.93,675.92 1001.13,674.8 1002.32,673.65 1003.52,672.5 1004.72,671.38 1005.92,670.31 1007.12,669.33 1008.31,668.45 1009.51,667.7 1010.71,667.1 1011.9,666.66 1013.1,666.39 1014.3,666.3 1015.5,666.39 1016.69,666.66 1017.89,667.1 1019.09,667.7 1020.29,668.45 1021.48,669.33 1022.68,670.31 1023.88,671.38 1025.08,672.5 1026.27,673.65 1027.47,674.8 1028.67,675.92 1029.87,676.99 1031.06,677.97 1032.26,678.85 1033.46,679.6 1034.66,680.2 1035.86,680.64 1037.05,680.91 1038.25,681 1039.45,680.91 1040.64,680.64 1041.84,680.2 1043.04,679.6 1044.24,678.85 1045.43,677.97 1046.63,676.99 1047.83,675.92 1049.03,674.8 1050.22,673.65 1051.42,672.5 1052.62,671.38 1053.82,670.31 1055.01,669.33 1056.21,668.45 1057.41,667.7 1058.61,667.1 1059.8,666.66 1061,666.39 1062.2,666.3 1063.4,666.39 1064.6,666.66 1065.79,667.1 1066.99,667.7 1068.19,668.45 1069.38,669.33 1070.58,670.31 1071.78,671.38 1072.98,672.5 1074.17,673.65 1075.37,674.8 1076.57,675.92 1077.77,676.99 1078.96,677.97 1080.16,678.85 1081.36,679.6 1082.56,680.2 1083.75,680.64 1084.95,680.91 1086.15,681 1087.35,680.91 1088.55,680.64 1089.74,680.2 1090.94,679.6 1092.14,678.85 1093.34,677.97 1094.53,676.99 1095.73,675.92 1096.93,674.8 1098.12,673.65 1099.32,672.5 1100.52,671.38 1101.72,670.31 1102.91,669.33 1104.11,668.45 1105.31,667.7 1106.51,667.1 1107.7,666.66 1108.9,666.39 1110.1,666.3 1111.3,666.39 1112.49,666.66 1113.69,667.1 1114.89,667.7 1116.09,668.45 1117.29,669.33 1118.48,670.31 1119.68,671.38 1120.88,672.5 1122.07,673.65 1123.27,674.8 1124.47,675.92 1125.67,676.99 1126.87,677.97 1128.06,678.85 1129.26,679.6 1130.46,680.2 1131.65,680.64 1132.85,680.91 1134.05,681 1135.25,680.91 1136.44,680.64 1137.64,680.2 1138.84,679.6 1140.04,678.85 1141.23,677.97 1142.43,676.99 1143.63,675.92 1144.83,674.8 1146.02,673.65 1147.22,672.5 1148.42,671.38 1149.62,670.31 1150.81,669.33 1152.01,668.45 1153.21,667.7 1154.41,667.1 1155.61,666.66 1156.8,666.39 1158,666.3 1159.2,666.39 1160.39,666.66 1161.59,667.1 1162.79,667.7 1163.99,668.45 1165.18,669.33 1166.38,670.31 1167.58,671.38 1168.78,672.5 1169.97,673.65 1171.17,674.8 1172.37,675.92 1173.57,676.99 1174.76,677.97 1175.96,678.85 1177.16,679.6 1178.36,680.2 1179.55,680.64 1180.75,680.91 1181.95,681 1183.15,680.91 1184.35,680.64 1185.54,680.2 1186.74,679.6 1187.94,678.85 1189.13,677.97 1190.33,676.99 1191.53,675.92 1192.73,674.8 1193.92,673.65 1195.12,672.5 1196.32,671.38 1197.52,670.31 1198.71,669.33 1199.91,668.45 1201.11,667.7 1202.31,667.1 1203.5,666.66 1204.7,666.39 1205.9,666.3 1207.1,666.39 1208.29,666.66 1209.49,667.1 1210.69,667.7 1211.89,668.45 1213.09,669.33 1214.28,670.31 1215.48,671.38 1216.68,672.5 1217.87,673.65 1219.07,674.8 1220.27,675.92 1221.47,676.99 1222.66,677.97 1223.86,678.85 1225.06,679.6 1226.26,680.2 1227.45,680.64 1228.65,680.91 1229.85,681 1231.05,680.91 1232.24,680.64 1233.44,680.2 1234.64,679.6 1235.84,678.85 1237.03,677.97 1238.23,676.99 1239.43,675.92 1240.63,674.8 1241.82,673.65 1243.02,672.5 1244.22,671.38 1245.42,670.31 1246.61,669.33 1247.81,668.45 1249.01,667.7 1250.21,667.1 1251.4,666.66 1252.6,666.39 1253.8,666.3 1255,666.39 1256.19,666.66 1257.39,667.1 1258.59,667.7 1259.79,668.45 1260.98,669.33 1262.18,670.31 1263.38,671.38 1264.58,672.5 1265.77,673.65 1266.97,674.8 1268.17,675.92 1269.37,676.99 1270.56,677.97 1271.76,678.85 1272.96,679.6 1274.16,680.2 1275.35,680.64 1276.55,680.91 1277.75,681 1278.95,680.91 1280.14,680.64 1281.34,680.2 1282.54,679.6 1283.74,678.85 1284.93,677.97 1286.13,676.99 1287.33,675.92 1288.53,674.8 1289.72,673.65 1290.92,672.5 1292.12,671.38 1293.32,670.31 1294.51,669.33 1295.71,668.45 1296.91,667.7 1298.11,667.1 1299.3,666.66 1300.5,666.39 1301.7,666.3 1302.9,666.39 1304.09,666.66 1305.29,667.1 1306.49,667.7 1307.69,668.45 1308.88,669.33 1310.08,670.31 1311.28,671.38 1312.48,672.5 1313.67,673.65 1314.87,674.8 1316.07,675.92 1317.27,676.99 1318.46,677.97 1319.66,678.85 1320.86,679.6 1322.06,680.2 1323.25,680.64 1324.45,680.91 1325.65,681 Q1329.05,681 1329.85,677 L1330.8,669.5 Q1331.6,665.4 1335,665.4 L1385,665.4" fill="none" stroke="#121212" stroke-width="2.7" stroke-linejoin="round"/>
<g transform="translate(74.7,665.8) scale(0.64)">
<rect x="0" y="-7.2" width="13.5" height="14.4" rx="1.5" fill="#8e8e8e"/>
<rect x="0.5" y="-7.2" width="12.5" height="2" fill="#b9b9b9"/>
<rect x="0.5" y="5.2" width="12.5" height="2" fill="#b0b0b0"/>
<path d="M12.9,-8.5 Q12.9,-9.5 14,-9.5 L46,-9.5 Q47,-9.5 47.8,-8.8 C51,-6.5 55,-5.5 65.7,-5.3 L65.7,5.3 C55,5.5 51,6.5 47.8,8.8 Q47,9.5 46,9.5 L14,9.5 Q12.9,9.5 12.9,8.5 Z" fill="#2c2c2c"/>
<rect x="65.2" y="-5.8" width="4.7" height="11.6" rx="1.8" fill="#262626"/>
<rect x="13.6" y="-7.6" width="33.6" height="1.8" fill="#8a8a8a"/>
<rect x="13.6" y="5.4" width="33.6" height="1.8" fill="#8a8a8a"/>
<text transform="translate(29.4,0) rotate(180)" x="0" y="2.9" text-anchor="middle" font-family="Liberation Sans" font-weight="bold" font-size="7.8" fill="#f2f2f2" textLength="27.6" lengthAdjust="spacingAndGlyphs">ACVEE</text>
</g>
<g transform="translate(1426.3,666.1) scale(0.56)">
<rect x="-23.6" y="-10.95" width="23.6" height="21.9" fill="#9c9c9c"/>
<rect x="-23.6" y="-10.95" width="23.6" height="1.6" fill="#b4b4b4"/>
<rect x="-13.4" y="-7.9" width="3.8" height="3.4" fill="#3a3a3a"/>
<rect x="-13.4" y="3.9" width="3.8" height="4.2" fill="#3a3a3a"/>
<path d="M-23.4,-13.65 L-50.5,-13.65 Q-51.6,-13.65 -52.3,-12.6 C-55,-8.6 -60,-6.3 -70.8,-6.2 L-70.8,6.2 C-60,6.3 -55,8.6 -52.3,12.6 Q-51.6,13.65 -50.5,13.65 L-23.4,13.65 Z" fill="#2c2c2c"/>
<rect x="-75" y="-6.3" width="4.8" height="12.6" rx="1.8" fill="#262626"/>
<rect x="-50" y="-11" width="26.6" height="1.8" fill="#808080"/>
<rect x="-50" y="9.8" width="26.6" height="1.8" fill="#808080"/>
<g fill="#f4f4f4" stroke="#f4f4f4" transform="translate(-37.8,0) scale(0.88) translate(37.8,0)">
<circle cx="-44.4" cy="0" r="2.3" stroke="none"/>
<path d="M-44,0 L-27.5,0 M-40,0 L-36.8,-3.2 L-32.5,-3.2 M-38.5,0 L-35.3,3.2 L-31.5,3.2" stroke-width="1.5" fill="none"/>
<circle cx="-32" cy="-3.2" r="1.5" stroke="none"/>
<circle cx="-31" cy="3.2" r="1.5" stroke="none"/>
<circle cx="-27" cy="0" r="1.5" stroke="none"/>
</g>
</g></g>
</g>
</svg>
</body></html>
